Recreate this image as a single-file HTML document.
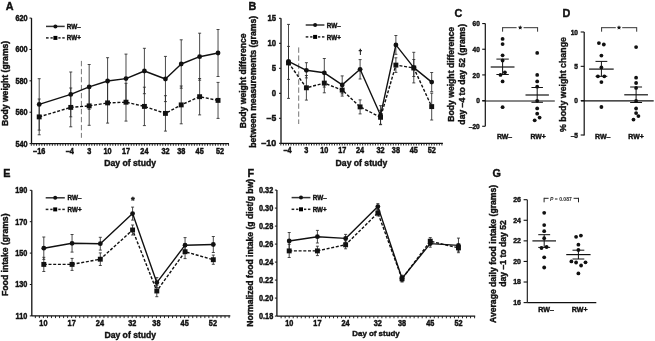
<!DOCTYPE html>
<html><head><meta charset="utf-8"><style>
html,body{margin:0;padding:0;background:#fff;}
svg{display:block;will-change:transform;}
text{font-family:"Liberation Sans", sans-serif;}
</style></head><body>
<svg width="655" height="341" viewBox="0 0 655 341">
<rect width="655" height="341" fill="#fff"/>
<text x="5.70" y="10.30" font-size="10.8" text-anchor="start" font-weight="bold" stroke="#111" stroke-width="0.4" fill="#111">A</text>
<line x1="31.50" y1="18.08" x2="31.50" y2="143.60" stroke="#111" stroke-width="1.3" />
<line x1="29.50" y1="18.08" x2="31.50" y2="18.08" stroke="#111" stroke-width="1.0" />
<text x="0" y="0" font-size="7.3" text-anchor="end" font-weight="bold" stroke="#111" stroke-width="0.4" fill="#111" transform="translate(27.60 20.98) scale(1 1.12)">620</text>
<line x1="29.50" y1="49.46" x2="31.50" y2="49.46" stroke="#111" stroke-width="1.0" />
<text x="0" y="0" font-size="7.3" text-anchor="end" font-weight="bold" stroke="#111" stroke-width="0.4" fill="#111" transform="translate(27.60 52.36) scale(1 1.12)">600</text>
<line x1="29.50" y1="80.84" x2="31.50" y2="80.84" stroke="#111" stroke-width="1.0" />
<text x="0" y="0" font-size="7.3" text-anchor="end" font-weight="bold" stroke="#111" stroke-width="0.4" fill="#111" transform="translate(27.60 83.74) scale(1 1.12)">580</text>
<line x1="29.50" y1="112.22" x2="31.50" y2="112.22" stroke="#111" stroke-width="1.0" />
<text x="0" y="0" font-size="7.3" text-anchor="end" font-weight="bold" stroke="#111" stroke-width="0.4" fill="#111" transform="translate(27.60 115.12) scale(1 1.12)">560</text>
<line x1="29.50" y1="143.60" x2="31.50" y2="143.60" stroke="#111" stroke-width="1.0" />
<text x="0" y="0" font-size="7.3" text-anchor="end" font-weight="bold" stroke="#111" stroke-width="0.4" fill="#111" transform="translate(27.60 146.50) scale(1 1.12)">540</text>
<line x1="31.50" y1="143.60" x2="229.00" y2="143.60" stroke="#111" stroke-width="1.3" />
<line x1="31.31" y1="143.60" x2="31.31" y2="145.80" stroke="#111" stroke-width="0.9" />
<line x1="33.94" y1="143.60" x2="33.94" y2="145.80" stroke="#111" stroke-width="0.9" />
<line x1="36.57" y1="143.60" x2="36.57" y2="145.80" stroke="#111" stroke-width="0.9" />
<line x1="39.20" y1="143.60" x2="39.20" y2="145.80" stroke="#111" stroke-width="0.9" />
<line x1="41.83" y1="143.60" x2="41.83" y2="145.80" stroke="#111" stroke-width="0.9" />
<line x1="44.46" y1="143.60" x2="44.46" y2="145.80" stroke="#111" stroke-width="0.9" />
<line x1="47.09" y1="143.60" x2="47.09" y2="145.80" stroke="#111" stroke-width="0.9" />
<line x1="49.72" y1="143.60" x2="49.72" y2="145.80" stroke="#111" stroke-width="0.9" />
<line x1="52.35" y1="143.60" x2="52.35" y2="145.80" stroke="#111" stroke-width="0.9" />
<line x1="54.98" y1="143.60" x2="54.98" y2="145.80" stroke="#111" stroke-width="0.9" />
<line x1="57.61" y1="143.60" x2="57.61" y2="145.80" stroke="#111" stroke-width="0.9" />
<line x1="60.24" y1="143.60" x2="60.24" y2="145.80" stroke="#111" stroke-width="0.9" />
<line x1="62.87" y1="143.60" x2="62.87" y2="145.80" stroke="#111" stroke-width="0.9" />
<line x1="65.50" y1="143.60" x2="65.50" y2="145.80" stroke="#111" stroke-width="0.9" />
<line x1="68.13" y1="143.60" x2="68.13" y2="145.80" stroke="#111" stroke-width="0.9" />
<line x1="70.76" y1="143.60" x2="70.76" y2="145.80" stroke="#111" stroke-width="0.9" />
<line x1="73.39" y1="143.60" x2="73.39" y2="145.80" stroke="#111" stroke-width="0.9" />
<line x1="76.02" y1="143.60" x2="76.02" y2="145.80" stroke="#111" stroke-width="0.9" />
<line x1="78.65" y1="143.60" x2="78.65" y2="145.80" stroke="#111" stroke-width="0.9" />
<line x1="81.28" y1="143.60" x2="81.28" y2="145.80" stroke="#111" stroke-width="0.9" />
<line x1="83.91" y1="143.60" x2="83.91" y2="145.80" stroke="#111" stroke-width="0.9" />
<line x1="86.54" y1="143.60" x2="86.54" y2="145.80" stroke="#111" stroke-width="0.9" />
<line x1="89.17" y1="143.60" x2="89.17" y2="145.80" stroke="#111" stroke-width="0.9" />
<line x1="91.80" y1="143.60" x2="91.80" y2="145.80" stroke="#111" stroke-width="0.9" />
<line x1="94.43" y1="143.60" x2="94.43" y2="145.80" stroke="#111" stroke-width="0.9" />
<line x1="97.06" y1="143.60" x2="97.06" y2="145.80" stroke="#111" stroke-width="0.9" />
<line x1="99.69" y1="143.60" x2="99.69" y2="145.80" stroke="#111" stroke-width="0.9" />
<line x1="102.32" y1="143.60" x2="102.32" y2="145.80" stroke="#111" stroke-width="0.9" />
<line x1="104.95" y1="143.60" x2="104.95" y2="145.80" stroke="#111" stroke-width="0.9" />
<line x1="107.58" y1="143.60" x2="107.58" y2="145.80" stroke="#111" stroke-width="0.9" />
<line x1="110.21" y1="143.60" x2="110.21" y2="145.80" stroke="#111" stroke-width="0.9" />
<line x1="112.84" y1="143.60" x2="112.84" y2="145.80" stroke="#111" stroke-width="0.9" />
<line x1="115.47" y1="143.60" x2="115.47" y2="145.80" stroke="#111" stroke-width="0.9" />
<line x1="118.10" y1="143.60" x2="118.10" y2="145.80" stroke="#111" stroke-width="0.9" />
<line x1="120.73" y1="143.60" x2="120.73" y2="145.80" stroke="#111" stroke-width="0.9" />
<line x1="123.36" y1="143.60" x2="123.36" y2="145.80" stroke="#111" stroke-width="0.9" />
<line x1="125.99" y1="143.60" x2="125.99" y2="145.80" stroke="#111" stroke-width="0.9" />
<line x1="128.62" y1="143.60" x2="128.62" y2="145.80" stroke="#111" stroke-width="0.9" />
<line x1="131.25" y1="143.60" x2="131.25" y2="145.80" stroke="#111" stroke-width="0.9" />
<line x1="133.88" y1="143.60" x2="133.88" y2="145.80" stroke="#111" stroke-width="0.9" />
<line x1="136.51" y1="143.60" x2="136.51" y2="145.80" stroke="#111" stroke-width="0.9" />
<line x1="139.14" y1="143.60" x2="139.14" y2="145.80" stroke="#111" stroke-width="0.9" />
<line x1="141.77" y1="143.60" x2="141.77" y2="145.80" stroke="#111" stroke-width="0.9" />
<line x1="144.40" y1="143.60" x2="144.40" y2="145.80" stroke="#111" stroke-width="0.9" />
<line x1="147.03" y1="143.60" x2="147.03" y2="145.80" stroke="#111" stroke-width="0.9" />
<line x1="149.66" y1="143.60" x2="149.66" y2="145.80" stroke="#111" stroke-width="0.9" />
<line x1="152.29" y1="143.60" x2="152.29" y2="145.80" stroke="#111" stroke-width="0.9" />
<line x1="154.92" y1="143.60" x2="154.92" y2="145.80" stroke="#111" stroke-width="0.9" />
<line x1="157.55" y1="143.60" x2="157.55" y2="145.80" stroke="#111" stroke-width="0.9" />
<line x1="160.18" y1="143.60" x2="160.18" y2="145.80" stroke="#111" stroke-width="0.9" />
<line x1="162.81" y1="143.60" x2="162.81" y2="145.80" stroke="#111" stroke-width="0.9" />
<line x1="165.44" y1="143.60" x2="165.44" y2="145.80" stroke="#111" stroke-width="0.9" />
<line x1="168.07" y1="143.60" x2="168.07" y2="145.80" stroke="#111" stroke-width="0.9" />
<line x1="170.70" y1="143.60" x2="170.70" y2="145.80" stroke="#111" stroke-width="0.9" />
<line x1="173.33" y1="143.60" x2="173.33" y2="145.80" stroke="#111" stroke-width="0.9" />
<line x1="175.96" y1="143.60" x2="175.96" y2="145.80" stroke="#111" stroke-width="0.9" />
<line x1="178.59" y1="143.60" x2="178.59" y2="145.80" stroke="#111" stroke-width="0.9" />
<line x1="181.22" y1="143.60" x2="181.22" y2="145.80" stroke="#111" stroke-width="0.9" />
<line x1="183.85" y1="143.60" x2="183.85" y2="145.80" stroke="#111" stroke-width="0.9" />
<line x1="186.48" y1="143.60" x2="186.48" y2="145.80" stroke="#111" stroke-width="0.9" />
<line x1="189.11" y1="143.60" x2="189.11" y2="145.80" stroke="#111" stroke-width="0.9" />
<line x1="191.74" y1="143.60" x2="191.74" y2="145.80" stroke="#111" stroke-width="0.9" />
<line x1="194.37" y1="143.60" x2="194.37" y2="145.80" stroke="#111" stroke-width="0.9" />
<line x1="197.00" y1="143.60" x2="197.00" y2="145.80" stroke="#111" stroke-width="0.9" />
<line x1="199.63" y1="143.60" x2="199.63" y2="145.80" stroke="#111" stroke-width="0.9" />
<line x1="202.26" y1="143.60" x2="202.26" y2="145.80" stroke="#111" stroke-width="0.9" />
<line x1="204.89" y1="143.60" x2="204.89" y2="145.80" stroke="#111" stroke-width="0.9" />
<line x1="207.52" y1="143.60" x2="207.52" y2="145.80" stroke="#111" stroke-width="0.9" />
<line x1="210.15" y1="143.60" x2="210.15" y2="145.80" stroke="#111" stroke-width="0.9" />
<line x1="212.78" y1="143.60" x2="212.78" y2="145.80" stroke="#111" stroke-width="0.9" />
<line x1="215.41" y1="143.60" x2="215.41" y2="145.80" stroke="#111" stroke-width="0.9" />
<line x1="218.04" y1="143.60" x2="218.04" y2="145.80" stroke="#111" stroke-width="0.9" />
<line x1="220.67" y1="143.60" x2="220.67" y2="145.80" stroke="#111" stroke-width="0.9" />
<line x1="223.30" y1="143.60" x2="223.30" y2="145.80" stroke="#111" stroke-width="0.9" />
<line x1="225.93" y1="143.60" x2="225.93" y2="145.80" stroke="#111" stroke-width="0.9" />
<line x1="228.56" y1="143.60" x2="228.56" y2="145.80" stroke="#111" stroke-width="0.9" />
<text x="0" y="0" font-size="7.3" text-anchor="middle" font-weight="bold" stroke="#111" stroke-width="0.4" fill="#111" transform="translate(39.20 153.70) scale(1 1.12)">&#8211;16</text>
<text x="0" y="0" font-size="7.3" text-anchor="middle" font-weight="bold" stroke="#111" stroke-width="0.4" fill="#111" transform="translate(69.76 153.70) scale(1 1.12)">&#8211;4</text>
<text x="0" y="0" font-size="7.3" text-anchor="middle" font-weight="bold" stroke="#111" stroke-width="0.4" fill="#111" transform="translate(89.17 153.70) scale(1 1.12)">3</text>
<text x="0" y="0" font-size="7.3" text-anchor="middle" font-weight="bold" stroke="#111" stroke-width="0.4" fill="#111" transform="translate(107.58 153.70) scale(1 1.12)">10</text>
<text x="0" y="0" font-size="7.3" text-anchor="middle" font-weight="bold" stroke="#111" stroke-width="0.4" fill="#111" transform="translate(125.99 153.70) scale(1 1.12)">17</text>
<text x="0" y="0" font-size="7.3" text-anchor="middle" font-weight="bold" stroke="#111" stroke-width="0.4" fill="#111" transform="translate(144.40 153.70) scale(1 1.12)">24</text>
<text x="0" y="0" font-size="7.3" text-anchor="middle" font-weight="bold" stroke="#111" stroke-width="0.4" fill="#111" transform="translate(165.44 153.70) scale(1 1.12)">32</text>
<text x="0" y="0" font-size="7.3" text-anchor="middle" font-weight="bold" stroke="#111" stroke-width="0.4" fill="#111" transform="translate(181.22 153.70) scale(1 1.12)">38</text>
<text x="0" y="0" font-size="7.3" text-anchor="middle" font-weight="bold" stroke="#111" stroke-width="0.4" fill="#111" transform="translate(199.63 153.70) scale(1 1.12)">45</text>
<text x="0" y="0" font-size="7.3" text-anchor="middle" font-weight="bold" stroke="#111" stroke-width="0.4" fill="#111" transform="translate(220.04 153.70) scale(1 1.12)">52</text>
<text x="130.10" y="165.90" font-size="8.65" text-anchor="middle" font-weight="bold" stroke="#111" stroke-width="0.4" fill="#111">Day of study</text>
<text x="8.20" y="83.40" font-size="8.65" text-anchor="middle" font-weight="bold" stroke="#111" stroke-width="0.4" fill="#111" transform="rotate(-90 8.20 83.40)">Body weight (grams)</text>
<line x1="46.00" y1="26.40" x2="64.70" y2="26.40" stroke="#333" stroke-width="1.5" />
<circle cx="55.40" cy="26.40" r="2.0" fill="#111"/>
<text x="66.80" y="28.70" font-size="6.4" text-anchor="start" font-weight="bold" stroke="#111" stroke-width="0.4" textLength="14.0" lengthAdjust="spacingAndGlyphs" fill="#111">RW&#8211;</text>
<rect x="46.00" y="37.15" width="2.62" height="1.5" fill="#222"/>
<rect x="50.49" y="37.15" width="2.24" height="1.5" fill="#222"/>
<rect x="58.34" y="37.15" width="2.24" height="1.5" fill="#222"/>
<rect x="62.27" y="37.15" width="2.43" height="1.5" fill="#222"/>
<rect x="53.40" y="35.90" width="4.0" height="4.0" fill="#000"/>
<text x="66.80" y="40.20" font-size="6.4" text-anchor="start" font-weight="bold" stroke="#111" stroke-width="0.4" textLength="14.0" lengthAdjust="spacingAndGlyphs" fill="#111">RW+</text>
<line x1="81.40" y1="60.90" x2="81.40" y2="137.80" stroke="#777" stroke-width="1.0" stroke-dasharray="5.4,2.6" />
<line x1="39.20" y1="78.70" x2="39.20" y2="130.10" stroke="#2a2a2a" stroke-width="0.85" />
<line x1="37.70" y1="78.70" x2="40.70" y2="78.70" stroke="#2a2a2a" stroke-width="0.85" />
<line x1="37.70" y1="130.10" x2="40.70" y2="130.10" stroke="#2a2a2a" stroke-width="0.85" />
<line x1="70.76" y1="72.00" x2="70.76" y2="116.80" stroke="#2a2a2a" stroke-width="0.85" />
<line x1="69.26" y1="72.00" x2="72.26" y2="72.00" stroke="#2a2a2a" stroke-width="0.85" />
<line x1="69.26" y1="116.80" x2="72.26" y2="116.80" stroke="#2a2a2a" stroke-width="0.85" />
<line x1="89.17" y1="64.50" x2="89.17" y2="109.30" stroke="#2a2a2a" stroke-width="0.85" />
<line x1="87.67" y1="64.50" x2="90.67" y2="64.50" stroke="#2a2a2a" stroke-width="0.85" />
<line x1="87.67" y1="109.30" x2="90.67" y2="109.30" stroke="#2a2a2a" stroke-width="0.85" />
<line x1="107.58" y1="57.70" x2="107.58" y2="104.30" stroke="#2a2a2a" stroke-width="0.85" />
<line x1="106.08" y1="57.70" x2="109.08" y2="57.70" stroke="#2a2a2a" stroke-width="0.85" />
<line x1="106.08" y1="104.30" x2="109.08" y2="104.30" stroke="#2a2a2a" stroke-width="0.85" />
<line x1="125.99" y1="54.10" x2="125.99" y2="103.10" stroke="#2a2a2a" stroke-width="0.85" />
<line x1="124.49" y1="54.10" x2="127.49" y2="54.10" stroke="#2a2a2a" stroke-width="0.85" />
<line x1="124.49" y1="103.10" x2="127.49" y2="103.10" stroke="#2a2a2a" stroke-width="0.85" />
<line x1="144.40" y1="48.30" x2="144.40" y2="93.70" stroke="#2a2a2a" stroke-width="0.85" />
<line x1="142.90" y1="48.30" x2="145.90" y2="48.30" stroke="#2a2a2a" stroke-width="0.85" />
<line x1="142.90" y1="93.70" x2="145.90" y2="93.70" stroke="#2a2a2a" stroke-width="0.85" />
<line x1="165.44" y1="56.40" x2="165.44" y2="101.60" stroke="#2a2a2a" stroke-width="0.85" />
<line x1="163.94" y1="56.40" x2="166.94" y2="56.40" stroke="#2a2a2a" stroke-width="0.85" />
<line x1="163.94" y1="101.60" x2="166.94" y2="101.60" stroke="#2a2a2a" stroke-width="0.85" />
<line x1="181.22" y1="39.80" x2="181.22" y2="88.20" stroke="#2a2a2a" stroke-width="0.85" />
<line x1="179.72" y1="39.80" x2="182.72" y2="39.80" stroke="#2a2a2a" stroke-width="0.85" />
<line x1="179.72" y1="88.20" x2="182.72" y2="88.20" stroke="#2a2a2a" stroke-width="0.85" />
<line x1="199.63" y1="33.20" x2="199.63" y2="80.20" stroke="#2a2a2a" stroke-width="0.85" />
<line x1="198.13" y1="33.20" x2="201.13" y2="33.20" stroke="#2a2a2a" stroke-width="0.85" />
<line x1="198.13" y1="80.20" x2="201.13" y2="80.20" stroke="#2a2a2a" stroke-width="0.85" />
<line x1="218.04" y1="29.50" x2="218.04" y2="76.50" stroke="#2a2a2a" stroke-width="0.85" />
<line x1="216.54" y1="29.50" x2="219.54" y2="29.50" stroke="#2a2a2a" stroke-width="0.85" />
<line x1="216.54" y1="76.50" x2="219.54" y2="76.50" stroke="#2a2a2a" stroke-width="0.85" />
<line x1="39.20" y1="99.00" x2="39.20" y2="134.80" stroke="#2a2a2a" stroke-width="0.85" />
<line x1="37.70" y1="99.00" x2="40.70" y2="99.00" stroke="#2a2a2a" stroke-width="0.85" />
<line x1="37.70" y1="134.80" x2="40.70" y2="134.80" stroke="#2a2a2a" stroke-width="0.85" />
<line x1="70.76" y1="88.00" x2="70.76" y2="126.80" stroke="#2a2a2a" stroke-width="0.85" />
<line x1="69.26" y1="88.00" x2="72.26" y2="88.00" stroke="#2a2a2a" stroke-width="0.85" />
<line x1="69.26" y1="126.80" x2="72.26" y2="126.80" stroke="#2a2a2a" stroke-width="0.85" />
<line x1="89.17" y1="86.50" x2="89.17" y2="125.30" stroke="#2a2a2a" stroke-width="0.85" />
<line x1="87.67" y1="86.50" x2="90.67" y2="86.50" stroke="#2a2a2a" stroke-width="0.85" />
<line x1="87.67" y1="125.30" x2="90.67" y2="125.30" stroke="#2a2a2a" stroke-width="0.85" />
<line x1="107.58" y1="82.70" x2="107.58" y2="123.10" stroke="#2a2a2a" stroke-width="0.85" />
<line x1="106.08" y1="82.70" x2="109.08" y2="82.70" stroke="#2a2a2a" stroke-width="0.85" />
<line x1="106.08" y1="123.10" x2="109.08" y2="123.10" stroke="#2a2a2a" stroke-width="0.85" />
<line x1="125.99" y1="83.30" x2="125.99" y2="121.10" stroke="#2a2a2a" stroke-width="0.85" />
<line x1="124.49" y1="83.30" x2="127.49" y2="83.30" stroke="#2a2a2a" stroke-width="0.85" />
<line x1="124.49" y1="121.10" x2="127.49" y2="121.10" stroke="#2a2a2a" stroke-width="0.85" />
<line x1="144.40" y1="87.20" x2="144.40" y2="125.60" stroke="#2a2a2a" stroke-width="0.85" />
<line x1="142.90" y1="87.20" x2="145.90" y2="87.20" stroke="#2a2a2a" stroke-width="0.85" />
<line x1="142.90" y1="125.60" x2="145.90" y2="125.60" stroke="#2a2a2a" stroke-width="0.85" />
<line x1="165.44" y1="95.70" x2="165.44" y2="131.10" stroke="#2a2a2a" stroke-width="0.85" />
<line x1="163.94" y1="95.70" x2="166.94" y2="95.70" stroke="#2a2a2a" stroke-width="0.85" />
<line x1="163.94" y1="131.10" x2="166.94" y2="131.10" stroke="#2a2a2a" stroke-width="0.85" />
<line x1="181.22" y1="86.00" x2="181.22" y2="123.80" stroke="#2a2a2a" stroke-width="0.85" />
<line x1="179.72" y1="86.00" x2="182.72" y2="86.00" stroke="#2a2a2a" stroke-width="0.85" />
<line x1="179.72" y1="123.80" x2="182.72" y2="123.80" stroke="#2a2a2a" stroke-width="0.85" />
<line x1="199.63" y1="78.50" x2="199.63" y2="114.90" stroke="#2a2a2a" stroke-width="0.85" />
<line x1="198.13" y1="78.50" x2="201.13" y2="78.50" stroke="#2a2a2a" stroke-width="0.85" />
<line x1="198.13" y1="114.90" x2="201.13" y2="114.90" stroke="#2a2a2a" stroke-width="0.85" />
<line x1="218.04" y1="82.40" x2="218.04" y2="118.40" stroke="#2a2a2a" stroke-width="0.85" />
<line x1="216.54" y1="82.40" x2="219.54" y2="82.40" stroke="#2a2a2a" stroke-width="0.85" />
<line x1="216.54" y1="118.40" x2="219.54" y2="118.40" stroke="#2a2a2a" stroke-width="0.85" />
<polyline points="39.20,104.40 70.76,94.40 89.17,86.90 107.58,81.00 125.99,78.60 144.40,71.00 165.44,79.00 181.22,64.00 199.63,56.70 218.04,53.00" fill="none" stroke="#111" stroke-width="1.4" stroke-linejoin="round"/>
<polyline points="39.20,116.90 70.76,107.40 89.17,105.90 107.58,102.90 125.99,102.20 144.40,106.40 165.44,113.40 181.22,104.90 199.63,96.70 218.04,100.40" fill="none" stroke="#111" stroke-width="1.4" stroke-dasharray="3,1.7" stroke-linejoin="round"/>
<circle cx="39.20" cy="104.40" r="2.4" fill="#111"/>
<circle cx="70.76" cy="94.40" r="2.4" fill="#111"/>
<circle cx="89.17" cy="86.90" r="2.4" fill="#111"/>
<circle cx="107.58" cy="81.00" r="2.4" fill="#111"/>
<circle cx="125.99" cy="78.60" r="2.4" fill="#111"/>
<circle cx="144.40" cy="71.00" r="2.4" fill="#111"/>
<circle cx="165.44" cy="79.00" r="2.4" fill="#111"/>
<circle cx="181.22" cy="64.00" r="2.4" fill="#111"/>
<circle cx="199.63" cy="56.70" r="2.4" fill="#111"/>
<circle cx="218.04" cy="53.00" r="2.4" fill="#111"/>
<rect x="36.75" y="114.45" width="4.9" height="4.9" fill="#111"/>
<rect x="68.31" y="104.95" width="4.9" height="4.9" fill="#111"/>
<rect x="86.72" y="103.45" width="4.9" height="4.9" fill="#111"/>
<rect x="105.13" y="100.45" width="4.9" height="4.9" fill="#111"/>
<rect x="123.54" y="99.75" width="4.9" height="4.9" fill="#111"/>
<rect x="141.95" y="103.95" width="4.9" height="4.9" fill="#111"/>
<rect x="162.99" y="110.95" width="4.9" height="4.9" fill="#111"/>
<rect x="178.77" y="102.45" width="4.9" height="4.9" fill="#111"/>
<rect x="197.18" y="94.25" width="4.9" height="4.9" fill="#111"/>
<rect x="215.59" y="97.95" width="4.9" height="4.9" fill="#111"/>
<text x="248.50" y="10.30" font-size="10.8" text-anchor="start" font-weight="bold" stroke="#111" stroke-width="0.4" fill="#111">B</text>
<line x1="281.00" y1="18.30" x2="281.00" y2="143.30" stroke="#111" stroke-width="1.3" />
<line x1="279.00" y1="18.30" x2="281.00" y2="18.30" stroke="#111" stroke-width="1.0" />
<text x="0" y="0" font-size="7.8" text-anchor="end" font-weight="bold" stroke="#111" stroke-width="0.4" fill="#111" transform="translate(276.20 21.20) scale(1 1.12)">15</text>
<line x1="279.00" y1="43.30" x2="281.00" y2="43.30" stroke="#111" stroke-width="1.0" />
<text x="0" y="0" font-size="7.8" text-anchor="end" font-weight="bold" stroke="#111" stroke-width="0.4" fill="#111" transform="translate(276.20 46.20) scale(1 1.12)">10</text>
<line x1="279.00" y1="68.30" x2="281.00" y2="68.30" stroke="#111" stroke-width="1.0" />
<text x="0" y="0" font-size="7.8" text-anchor="end" font-weight="bold" stroke="#111" stroke-width="0.4" fill="#111" transform="translate(276.20 71.20) scale(1 1.12)">5</text>
<line x1="279.00" y1="93.30" x2="281.00" y2="93.30" stroke="#111" stroke-width="1.0" />
<text x="0" y="0" font-size="7.8" text-anchor="end" font-weight="bold" stroke="#111" stroke-width="0.4" fill="#111" transform="translate(276.20 96.20) scale(1 1.12)">0</text>
<line x1="279.00" y1="118.30" x2="281.00" y2="118.30" stroke="#111" stroke-width="1.0" />
<text x="0" y="0" font-size="7.8" text-anchor="end" font-weight="bold" stroke="#111" stroke-width="0.4" textLength="9.6" lengthAdjust="spacingAndGlyphs" fill="#111" transform="translate(276.20 121.20) scale(1 1.12)">&#8211;5</text>
<line x1="279.00" y1="143.30" x2="281.00" y2="143.30" stroke="#111" stroke-width="1.0" />
<text x="0" y="0" font-size="7.8" text-anchor="end" font-weight="bold" stroke="#111" stroke-width="0.4" textLength="15.0" lengthAdjust="spacingAndGlyphs" fill="#111" transform="translate(276.20 146.20) scale(1 1.12)">&#8211;10</text>
<line x1="281.00" y1="143.30" x2="442.90" y2="143.30" stroke="#111" stroke-width="1.3" />
<line x1="280.83" y1="143.30" x2="280.83" y2="145.50" stroke="#111" stroke-width="0.9" />
<line x1="283.39" y1="143.30" x2="283.39" y2="145.50" stroke="#111" stroke-width="0.9" />
<line x1="285.94" y1="143.30" x2="285.94" y2="145.50" stroke="#111" stroke-width="0.9" />
<line x1="288.50" y1="143.30" x2="288.50" y2="145.50" stroke="#111" stroke-width="0.9" />
<line x1="291.06" y1="143.30" x2="291.06" y2="145.50" stroke="#111" stroke-width="0.9" />
<line x1="293.61" y1="143.30" x2="293.61" y2="145.50" stroke="#111" stroke-width="0.9" />
<line x1="296.17" y1="143.30" x2="296.17" y2="145.50" stroke="#111" stroke-width="0.9" />
<line x1="298.73" y1="143.30" x2="298.73" y2="145.50" stroke="#111" stroke-width="0.9" />
<line x1="301.29" y1="143.30" x2="301.29" y2="145.50" stroke="#111" stroke-width="0.9" />
<line x1="303.84" y1="143.30" x2="303.84" y2="145.50" stroke="#111" stroke-width="0.9" />
<line x1="306.40" y1="143.30" x2="306.40" y2="145.50" stroke="#111" stroke-width="0.9" />
<line x1="308.96" y1="143.30" x2="308.96" y2="145.50" stroke="#111" stroke-width="0.9" />
<line x1="311.51" y1="143.30" x2="311.51" y2="145.50" stroke="#111" stroke-width="0.9" />
<line x1="314.07" y1="143.30" x2="314.07" y2="145.50" stroke="#111" stroke-width="0.9" />
<line x1="316.63" y1="143.30" x2="316.63" y2="145.50" stroke="#111" stroke-width="0.9" />
<line x1="319.18" y1="143.30" x2="319.18" y2="145.50" stroke="#111" stroke-width="0.9" />
<line x1="321.74" y1="143.30" x2="321.74" y2="145.50" stroke="#111" stroke-width="0.9" />
<line x1="324.30" y1="143.30" x2="324.30" y2="145.50" stroke="#111" stroke-width="0.9" />
<line x1="326.86" y1="143.30" x2="326.86" y2="145.50" stroke="#111" stroke-width="0.9" />
<line x1="329.41" y1="143.30" x2="329.41" y2="145.50" stroke="#111" stroke-width="0.9" />
<line x1="331.97" y1="143.30" x2="331.97" y2="145.50" stroke="#111" stroke-width="0.9" />
<line x1="334.53" y1="143.30" x2="334.53" y2="145.50" stroke="#111" stroke-width="0.9" />
<line x1="337.08" y1="143.30" x2="337.08" y2="145.50" stroke="#111" stroke-width="0.9" />
<line x1="339.64" y1="143.30" x2="339.64" y2="145.50" stroke="#111" stroke-width="0.9" />
<line x1="342.20" y1="143.30" x2="342.20" y2="145.50" stroke="#111" stroke-width="0.9" />
<line x1="344.75" y1="143.30" x2="344.75" y2="145.50" stroke="#111" stroke-width="0.9" />
<line x1="347.31" y1="143.30" x2="347.31" y2="145.50" stroke="#111" stroke-width="0.9" />
<line x1="349.87" y1="143.30" x2="349.87" y2="145.50" stroke="#111" stroke-width="0.9" />
<line x1="352.43" y1="143.30" x2="352.43" y2="145.50" stroke="#111" stroke-width="0.9" />
<line x1="354.98" y1="143.30" x2="354.98" y2="145.50" stroke="#111" stroke-width="0.9" />
<line x1="357.54" y1="143.30" x2="357.54" y2="145.50" stroke="#111" stroke-width="0.9" />
<line x1="360.10" y1="143.30" x2="360.10" y2="145.50" stroke="#111" stroke-width="0.9" />
<line x1="362.65" y1="143.30" x2="362.65" y2="145.50" stroke="#111" stroke-width="0.9" />
<line x1="365.21" y1="143.30" x2="365.21" y2="145.50" stroke="#111" stroke-width="0.9" />
<line x1="367.77" y1="143.30" x2="367.77" y2="145.50" stroke="#111" stroke-width="0.9" />
<line x1="370.32" y1="143.30" x2="370.32" y2="145.50" stroke="#111" stroke-width="0.9" />
<line x1="372.88" y1="143.30" x2="372.88" y2="145.50" stroke="#111" stroke-width="0.9" />
<line x1="375.44" y1="143.30" x2="375.44" y2="145.50" stroke="#111" stroke-width="0.9" />
<line x1="378.00" y1="143.30" x2="378.00" y2="145.50" stroke="#111" stroke-width="0.9" />
<line x1="380.55" y1="143.30" x2="380.55" y2="145.50" stroke="#111" stroke-width="0.9" />
<line x1="383.11" y1="143.30" x2="383.11" y2="145.50" stroke="#111" stroke-width="0.9" />
<line x1="385.67" y1="143.30" x2="385.67" y2="145.50" stroke="#111" stroke-width="0.9" />
<line x1="388.22" y1="143.30" x2="388.22" y2="145.50" stroke="#111" stroke-width="0.9" />
<line x1="390.78" y1="143.30" x2="390.78" y2="145.50" stroke="#111" stroke-width="0.9" />
<line x1="393.34" y1="143.30" x2="393.34" y2="145.50" stroke="#111" stroke-width="0.9" />
<line x1="395.89" y1="143.30" x2="395.89" y2="145.50" stroke="#111" stroke-width="0.9" />
<line x1="398.45" y1="143.30" x2="398.45" y2="145.50" stroke="#111" stroke-width="0.9" />
<line x1="401.01" y1="143.30" x2="401.01" y2="145.50" stroke="#111" stroke-width="0.9" />
<line x1="403.56" y1="143.30" x2="403.56" y2="145.50" stroke="#111" stroke-width="0.9" />
<line x1="406.12" y1="143.30" x2="406.12" y2="145.50" stroke="#111" stroke-width="0.9" />
<line x1="408.68" y1="143.30" x2="408.68" y2="145.50" stroke="#111" stroke-width="0.9" />
<line x1="411.24" y1="143.30" x2="411.24" y2="145.50" stroke="#111" stroke-width="0.9" />
<line x1="413.79" y1="143.30" x2="413.79" y2="145.50" stroke="#111" stroke-width="0.9" />
<line x1="416.35" y1="143.30" x2="416.35" y2="145.50" stroke="#111" stroke-width="0.9" />
<line x1="418.91" y1="143.30" x2="418.91" y2="145.50" stroke="#111" stroke-width="0.9" />
<line x1="421.46" y1="143.30" x2="421.46" y2="145.50" stroke="#111" stroke-width="0.9" />
<line x1="424.02" y1="143.30" x2="424.02" y2="145.50" stroke="#111" stroke-width="0.9" />
<line x1="426.58" y1="143.30" x2="426.58" y2="145.50" stroke="#111" stroke-width="0.9" />
<line x1="429.13" y1="143.30" x2="429.13" y2="145.50" stroke="#111" stroke-width="0.9" />
<line x1="431.69" y1="143.30" x2="431.69" y2="145.50" stroke="#111" stroke-width="0.9" />
<line x1="434.25" y1="143.30" x2="434.25" y2="145.50" stroke="#111" stroke-width="0.9" />
<line x1="436.81" y1="143.30" x2="436.81" y2="145.50" stroke="#111" stroke-width="0.9" />
<line x1="439.36" y1="143.30" x2="439.36" y2="145.50" stroke="#111" stroke-width="0.9" />
<line x1="441.92" y1="143.30" x2="441.92" y2="145.50" stroke="#111" stroke-width="0.9" />
<text x="0" y="0" font-size="7.3" text-anchor="middle" font-weight="bold" stroke="#111" stroke-width="0.4" fill="#111" transform="translate(287.50 153.20) scale(1 1.12)">&#8211;4</text>
<text x="0" y="0" font-size="7.3" text-anchor="middle" font-weight="bold" stroke="#111" stroke-width="0.4" fill="#111" transform="translate(306.40 153.20) scale(1 1.12)">3</text>
<text x="0" y="0" font-size="7.3" text-anchor="middle" font-weight="bold" stroke="#111" stroke-width="0.4" fill="#111" transform="translate(324.30 153.20) scale(1 1.12)">10</text>
<text x="0" y="0" font-size="7.3" text-anchor="middle" font-weight="bold" stroke="#111" stroke-width="0.4" fill="#111" transform="translate(342.20 153.20) scale(1 1.12)">17</text>
<text x="0" y="0" font-size="7.3" text-anchor="middle" font-weight="bold" stroke="#111" stroke-width="0.4" fill="#111" transform="translate(360.10 153.20) scale(1 1.12)">24</text>
<text x="0" y="0" font-size="7.3" text-anchor="middle" font-weight="bold" stroke="#111" stroke-width="0.4" fill="#111" transform="translate(380.55 153.20) scale(1 1.12)">32</text>
<text x="0" y="0" font-size="7.3" text-anchor="middle" font-weight="bold" stroke="#111" stroke-width="0.4" fill="#111" transform="translate(395.89 153.20) scale(1 1.12)">38</text>
<text x="0" y="0" font-size="7.3" text-anchor="middle" font-weight="bold" stroke="#111" stroke-width="0.4" fill="#111" transform="translate(413.79 153.20) scale(1 1.12)">45</text>
<text x="0" y="0" font-size="7.3" text-anchor="middle" font-weight="bold" stroke="#111" stroke-width="0.4" fill="#111" transform="translate(431.69 153.20) scale(1 1.12)">52</text>
<text x="361.50" y="165.60" font-size="8.65" text-anchor="middle" font-weight="bold" stroke="#111" stroke-width="0.4" fill="#111">Day of study</text>
<text x="246.30" y="80.80" font-size="8.65" text-anchor="middle" font-weight="bold" stroke="#111" stroke-width="0.4" fill="#111" transform="rotate(-90 246.30 80.80)">Body weight difference</text>
<text x="255.80" y="81.80" font-size="8.65" text-anchor="middle" font-weight="bold" stroke="#111" stroke-width="0.4" fill="#111" transform="rotate(-90 255.80 81.80)">between measurements (grams)</text>
<line x1="305.70" y1="25.00" x2="324.40" y2="25.00" stroke="#333" stroke-width="1.5" />
<circle cx="315.10" cy="25.00" r="2.0" fill="#111"/>
<text x="326.80" y="27.90" font-size="6.4" text-anchor="start" font-weight="bold" stroke="#111" stroke-width="0.4" textLength="14.0" lengthAdjust="spacingAndGlyphs" fill="#111">RW&#8211;</text>
<rect x="305.70" y="36.15" width="2.62" height="1.5" fill="#222"/>
<rect x="310.19" y="36.15" width="2.24" height="1.5" fill="#222"/>
<rect x="318.04" y="36.15" width="2.24" height="1.5" fill="#222"/>
<rect x="321.97" y="36.15" width="2.43" height="1.5" fill="#222"/>
<rect x="313.10" y="34.90" width="4.0" height="4.0" fill="#000"/>
<text x="326.80" y="39.80" font-size="6.4" text-anchor="start" font-weight="bold" stroke="#111" stroke-width="0.4" textLength="14.0" lengthAdjust="spacingAndGlyphs" fill="#111">RW+</text>
<line x1="298.70" y1="47.40" x2="298.70" y2="124.00" stroke="#777" stroke-width="1.0" stroke-dasharray="5.4,2.6" />
<text x="360.40" y="53.60" font-size="6.6" text-anchor="middle" font-weight="bold" stroke="#111" stroke-width="0.4" fill="#111">&#8224;</text>
<line x1="288.50" y1="24.40" x2="288.50" y2="98.40" stroke="#2a2a2a" stroke-width="0.85" />
<line x1="287.00" y1="24.40" x2="290.00" y2="24.40" stroke="#2a2a2a" stroke-width="0.85" />
<line x1="287.00" y1="98.40" x2="290.00" y2="98.40" stroke="#2a2a2a" stroke-width="0.85" />
<line x1="306.40" y1="62.70" x2="306.40" y2="77.90" stroke="#2a2a2a" stroke-width="0.85" />
<line x1="304.90" y1="62.70" x2="307.90" y2="62.70" stroke="#2a2a2a" stroke-width="0.85" />
<line x1="304.90" y1="77.90" x2="307.90" y2="77.90" stroke="#2a2a2a" stroke-width="0.85" />
<line x1="324.30" y1="58.50" x2="324.30" y2="87.10" stroke="#2a2a2a" stroke-width="0.85" />
<line x1="322.80" y1="58.50" x2="325.80" y2="58.50" stroke="#2a2a2a" stroke-width="0.85" />
<line x1="322.80" y1="87.10" x2="325.80" y2="87.10" stroke="#2a2a2a" stroke-width="0.85" />
<line x1="342.20" y1="75.90" x2="342.20" y2="93.90" stroke="#2a2a2a" stroke-width="0.85" />
<line x1="340.70" y1="75.90" x2="343.70" y2="75.90" stroke="#2a2a2a" stroke-width="0.85" />
<line x1="340.70" y1="93.90" x2="343.70" y2="93.90" stroke="#2a2a2a" stroke-width="0.85" />
<line x1="360.10" y1="59.60" x2="360.10" y2="79.00" stroke="#2a2a2a" stroke-width="0.85" />
<line x1="358.60" y1="59.60" x2="361.60" y2="59.60" stroke="#2a2a2a" stroke-width="0.85" />
<line x1="358.60" y1="79.00" x2="361.60" y2="79.00" stroke="#2a2a2a" stroke-width="0.85" />
<line x1="380.55" y1="105.70" x2="380.55" y2="124.70" stroke="#2a2a2a" stroke-width="0.85" />
<line x1="379.05" y1="105.70" x2="382.05" y2="105.70" stroke="#2a2a2a" stroke-width="0.85" />
<line x1="379.05" y1="124.70" x2="382.05" y2="124.70" stroke="#2a2a2a" stroke-width="0.85" />
<line x1="395.89" y1="35.50" x2="395.89" y2="54.30" stroke="#2a2a2a" stroke-width="0.85" />
<line x1="394.39" y1="35.50" x2="397.39" y2="35.50" stroke="#2a2a2a" stroke-width="0.85" />
<line x1="394.39" y1="54.30" x2="397.39" y2="54.30" stroke="#2a2a2a" stroke-width="0.85" />
<line x1="413.79" y1="52.30" x2="413.79" y2="82.90" stroke="#2a2a2a" stroke-width="0.85" />
<line x1="412.29" y1="52.30" x2="415.29" y2="52.30" stroke="#2a2a2a" stroke-width="0.85" />
<line x1="412.29" y1="82.90" x2="415.29" y2="82.90" stroke="#2a2a2a" stroke-width="0.85" />
<line x1="431.69" y1="72.50" x2="431.69" y2="91.70" stroke="#2a2a2a" stroke-width="0.85" />
<line x1="430.19" y1="72.50" x2="433.19" y2="72.50" stroke="#2a2a2a" stroke-width="0.85" />
<line x1="430.19" y1="91.70" x2="433.19" y2="91.70" stroke="#2a2a2a" stroke-width="0.85" />
<line x1="288.50" y1="46.40" x2="288.50" y2="79.40" stroke="#2a2a2a" stroke-width="0.85" />
<line x1="287.00" y1="46.40" x2="290.00" y2="46.40" stroke="#2a2a2a" stroke-width="0.85" />
<line x1="287.00" y1="79.40" x2="290.00" y2="79.40" stroke="#2a2a2a" stroke-width="0.85" />
<line x1="306.40" y1="75.50" x2="306.40" y2="100.10" stroke="#2a2a2a" stroke-width="0.85" />
<line x1="304.90" y1="75.50" x2="307.90" y2="75.50" stroke="#2a2a2a" stroke-width="0.85" />
<line x1="304.90" y1="100.10" x2="307.90" y2="100.10" stroke="#2a2a2a" stroke-width="0.85" />
<line x1="324.30" y1="73.40" x2="324.30" y2="92.80" stroke="#2a2a2a" stroke-width="0.85" />
<line x1="322.80" y1="73.40" x2="325.80" y2="73.40" stroke="#2a2a2a" stroke-width="0.85" />
<line x1="322.80" y1="92.80" x2="325.80" y2="92.80" stroke="#2a2a2a" stroke-width="0.85" />
<line x1="342.20" y1="84.10" x2="342.20" y2="96.10" stroke="#2a2a2a" stroke-width="0.85" />
<line x1="340.70" y1="84.10" x2="343.70" y2="84.10" stroke="#2a2a2a" stroke-width="0.85" />
<line x1="340.70" y1="96.10" x2="343.70" y2="96.10" stroke="#2a2a2a" stroke-width="0.85" />
<line x1="360.10" y1="99.90" x2="360.10" y2="113.90" stroke="#2a2a2a" stroke-width="0.85" />
<line x1="358.60" y1="99.90" x2="361.60" y2="99.90" stroke="#2a2a2a" stroke-width="0.85" />
<line x1="358.60" y1="113.90" x2="361.60" y2="113.90" stroke="#2a2a2a" stroke-width="0.85" />
<line x1="380.55" y1="110.30" x2="380.55" y2="124.30" stroke="#2a2a2a" stroke-width="0.85" />
<line x1="379.05" y1="110.30" x2="382.05" y2="110.30" stroke="#2a2a2a" stroke-width="0.85" />
<line x1="379.05" y1="124.30" x2="382.05" y2="124.30" stroke="#2a2a2a" stroke-width="0.85" />
<line x1="395.89" y1="57.80" x2="395.89" y2="72.40" stroke="#2a2a2a" stroke-width="0.85" />
<line x1="394.39" y1="57.80" x2="397.39" y2="57.80" stroke="#2a2a2a" stroke-width="0.85" />
<line x1="394.39" y1="72.40" x2="397.39" y2="72.40" stroke="#2a2a2a" stroke-width="0.85" />
<line x1="413.79" y1="59.50" x2="413.79" y2="76.50" stroke="#2a2a2a" stroke-width="0.85" />
<line x1="412.29" y1="59.50" x2="415.29" y2="59.50" stroke="#2a2a2a" stroke-width="0.85" />
<line x1="412.29" y1="76.50" x2="415.29" y2="76.50" stroke="#2a2a2a" stroke-width="0.85" />
<line x1="431.69" y1="93.20" x2="431.69" y2="120.00" stroke="#2a2a2a" stroke-width="0.85" />
<line x1="430.19" y1="93.20" x2="433.19" y2="93.20" stroke="#2a2a2a" stroke-width="0.85" />
<line x1="430.19" y1="120.00" x2="433.19" y2="120.00" stroke="#2a2a2a" stroke-width="0.85" />
<polyline points="288.50,61.40 306.40,70.30 324.30,72.80 342.20,84.90 360.10,69.30 380.55,115.20 395.89,44.90 413.79,67.60 431.69,82.10" fill="none" stroke="#111" stroke-width="1.4" stroke-linejoin="round"/>
<polyline points="288.50,62.90 306.40,87.80 324.30,83.10 342.20,90.10 360.10,106.90 380.55,117.30 395.89,65.10 413.79,68.00 431.69,106.60" fill="none" stroke="#111" stroke-width="1.4" stroke-dasharray="3,1.7" stroke-linejoin="round"/>
<circle cx="288.50" cy="61.40" r="2.4" fill="#111"/>
<circle cx="306.40" cy="70.30" r="2.4" fill="#111"/>
<circle cx="324.30" cy="72.80" r="2.4" fill="#111"/>
<circle cx="342.20" cy="84.90" r="2.4" fill="#111"/>
<circle cx="360.10" cy="69.30" r="2.4" fill="#111"/>
<circle cx="380.55" cy="115.20" r="2.4" fill="#111"/>
<circle cx="395.89" cy="44.90" r="2.4" fill="#111"/>
<circle cx="413.79" cy="67.60" r="2.4" fill="#111"/>
<circle cx="431.69" cy="82.10" r="2.4" fill="#111"/>
<rect x="286.05" y="60.45" width="4.9" height="4.9" fill="#111"/>
<rect x="303.95" y="85.35" width="4.9" height="4.9" fill="#111"/>
<rect x="321.85" y="80.65" width="4.9" height="4.9" fill="#111"/>
<rect x="339.75" y="87.65" width="4.9" height="4.9" fill="#111"/>
<rect x="357.65" y="104.45" width="4.9" height="4.9" fill="#111"/>
<rect x="378.10" y="114.85" width="4.9" height="4.9" fill="#111"/>
<rect x="393.44" y="62.65" width="4.9" height="4.9" fill="#111"/>
<rect x="411.34" y="65.55" width="4.9" height="4.9" fill="#111"/>
<rect x="429.24" y="104.15" width="4.9" height="4.9" fill="#111"/>
<text x="454.60" y="16.80" font-size="10.8" text-anchor="start" font-weight="bold" stroke="#111" stroke-width="0.4" fill="#111">C</text>
<line x1="485.30" y1="23.56" x2="485.30" y2="126.28" stroke="#111" stroke-width="1.2" />
<line x1="482.20" y1="23.56" x2="485.30" y2="23.56" stroke="#111" stroke-width="1.1" />
<text x="0" y="0" font-size="6.6" text-anchor="end" font-weight="bold" stroke="#111" stroke-width="0.4" fill="#111" transform="translate(479.80 26.16) scale(1 1.1)">60</text>
<line x1="482.20" y1="49.24" x2="485.30" y2="49.24" stroke="#111" stroke-width="1.1" />
<text x="0" y="0" font-size="6.6" text-anchor="end" font-weight="bold" stroke="#111" stroke-width="0.4" fill="#111" transform="translate(479.80 51.84) scale(1 1.1)">40</text>
<line x1="482.20" y1="74.92" x2="485.30" y2="74.92" stroke="#111" stroke-width="1.1" />
<text x="0" y="0" font-size="6.6" text-anchor="end" font-weight="bold" stroke="#111" stroke-width="0.4" fill="#111" transform="translate(479.80 77.52) scale(1 1.1)">20</text>
<line x1="482.20" y1="100.60" x2="485.30" y2="100.60" stroke="#111" stroke-width="1.1" />
<text x="0" y="0" font-size="6.6" text-anchor="end" font-weight="bold" stroke="#111" stroke-width="0.4" fill="#111" transform="translate(479.80 103.20) scale(1 1.1)">0</text>
<line x1="482.20" y1="126.28" x2="485.30" y2="126.28" stroke="#111" stroke-width="1.1" />
<text x="0" y="0" font-size="6.6" text-anchor="end" font-weight="bold" stroke="#111" stroke-width="0.4" fill="#111" transform="translate(479.80 128.88) scale(1 1.1)">&#8211;20</text>
<line x1="482.30" y1="101.00" x2="554.80" y2="101.00" stroke="#111" stroke-width="1.2" />
<text x="453.80" y="74.30" font-size="8.65" text-anchor="middle" font-weight="bold" stroke="#111" stroke-width="0.4" fill="#111" transform="rotate(-90 453.80 74.30)">Body weight difference</text>
<text x="464.90" y="74.30" font-size="8.65" text-anchor="middle" font-weight="bold" stroke="#111" stroke-width="0.4" fill="#111" transform="rotate(-90 464.90 74.30)">day &#8211;4 to day 52 (grams)</text>
<line x1="502.60" y1="27.70" x2="516.60" y2="27.70" stroke="#333" stroke-width="1.0" />
<line x1="523.60" y1="27.70" x2="537.60" y2="27.70" stroke="#333" stroke-width="1.0" />
<line x1="502.60" y1="27.20" x2="502.60" y2="31.70" stroke="#333" stroke-width="1.0" />
<line x1="537.60" y1="27.20" x2="537.60" y2="31.70" stroke="#333" stroke-width="1.0" />
<polygon points="520.20,25.20 520.88,26.67 522.48,26.86 521.29,27.96 521.61,29.54 520.20,28.75 518.79,29.54 519.11,27.96 517.92,26.86 519.52,26.67" fill="#111"/>
<text x="504.60" y="138.80" font-size="6.8" text-anchor="middle" font-weight="bold" stroke="#111" stroke-width="0.4" textLength="15.3" lengthAdjust="spacingAndGlyphs" fill="#111">RW&#8211;</text>
<text x="538.20" y="138.80" font-size="6.8" text-anchor="middle" font-weight="bold" stroke="#111" stroke-width="0.4" textLength="15.3" lengthAdjust="spacingAndGlyphs" fill="#111">RW+</text>
<circle cx="502.60" cy="38.90" r="1.9" fill="#111"/>
<circle cx="502.60" cy="44.10" r="1.9" fill="#111"/>
<circle cx="502.60" cy="55.30" r="1.9" fill="#111"/>
<circle cx="502.60" cy="60.50" r="1.9" fill="#111"/>
<circle cx="504.90" cy="72.30" r="1.9" fill="#111"/>
<circle cx="500.50" cy="74.90" r="1.9" fill="#111"/>
<circle cx="502.60" cy="81.40" r="1.9" fill="#111"/>
<circle cx="502.60" cy="107.20" r="1.9" fill="#111"/>
<line x1="490.70" y1="67.00" x2="514.50" y2="67.00" stroke="#111" stroke-width="1.2" />
<line x1="496.40" y1="59.10" x2="508.80" y2="59.10" stroke="#111" stroke-width="1.0" />
<line x1="496.40" y1="74.50" x2="508.80" y2="74.50" stroke="#111" stroke-width="1.0" />
<line x1="502.60" y1="59.10" x2="502.60" y2="74.50" stroke="#111" stroke-width="1.0" />
<circle cx="537.20" cy="52.90" r="1.9" fill="#111"/>
<circle cx="537.20" cy="74.90" r="1.9" fill="#111"/>
<circle cx="537.20" cy="81.40" r="1.9" fill="#111"/>
<circle cx="537.20" cy="86.70" r="1.9" fill="#111"/>
<circle cx="537.20" cy="100.80" r="1.9" fill="#111"/>
<circle cx="537.20" cy="108.40" r="1.9" fill="#111"/>
<circle cx="537.20" cy="113.70" r="1.9" fill="#111"/>
<circle cx="539.60" cy="117.60" r="1.9" fill="#111"/>
<circle cx="534.70" cy="120.30" r="1.9" fill="#111"/>
<line x1="525.50" y1="95.00" x2="548.90" y2="95.00" stroke="#111" stroke-width="1.2" />
<line x1="531.45" y1="87.50" x2="542.95" y2="87.50" stroke="#111" stroke-width="1.0" />
<line x1="531.45" y1="102.30" x2="542.95" y2="102.30" stroke="#111" stroke-width="1.0" />
<line x1="537.20" y1="87.50" x2="537.20" y2="102.30" stroke="#111" stroke-width="1.0" />
<text x="562.60" y="16.70" font-size="10.8" text-anchor="start" font-weight="bold" stroke="#111" stroke-width="0.4" fill="#111">D</text>
<line x1="584.20" y1="32.00" x2="584.20" y2="135.50" stroke="#111" stroke-width="1.2" />
<line x1="580.70" y1="32.00" x2="584.20" y2="32.00" stroke="#111" stroke-width="1.1" />
<text x="0" y="0" font-size="6.6" text-anchor="end" font-weight="bold" stroke="#111" stroke-width="0.4" fill="#111" transform="translate(578.00 34.60) scale(1 1.1)">10</text>
<line x1="580.70" y1="66.34" x2="584.20" y2="66.34" stroke="#111" stroke-width="1.1" />
<text x="0" y="0" font-size="6.6" text-anchor="end" font-weight="bold" stroke="#111" stroke-width="0.4" fill="#111" transform="translate(578.00 68.94) scale(1 1.1)">5</text>
<line x1="580.70" y1="100.67" x2="584.20" y2="100.67" stroke="#111" stroke-width="1.1" />
<text x="0" y="0" font-size="6.6" text-anchor="end" font-weight="bold" stroke="#111" stroke-width="0.4" fill="#111" transform="translate(578.00 103.27) scale(1 1.1)">0</text>
<line x1="580.70" y1="135.00" x2="584.20" y2="135.00" stroke="#111" stroke-width="1.1" />
<text x="0" y="0" font-size="6.6" text-anchor="end" font-weight="bold" stroke="#111" stroke-width="0.4" fill="#111" transform="translate(578.00 137.60) scale(1 1.1)">&#8211;5</text>
<line x1="581.00" y1="100.97" x2="653.70" y2="100.97" stroke="#111" stroke-width="1.2" />
<text x="566.10" y="84.50" font-size="8.8" text-anchor="middle" font-weight="bold" stroke="#111" stroke-width="0.4" fill="#111" transform="rotate(-90 566.10 84.50)">% body weight change</text>
<line x1="601.60" y1="27.70" x2="615.80" y2="27.70" stroke="#333" stroke-width="1.0" />
<line x1="622.20" y1="27.70" x2="636.70" y2="27.70" stroke="#333" stroke-width="1.0" />
<line x1="601.60" y1="27.20" x2="601.60" y2="31.70" stroke="#333" stroke-width="1.0" />
<line x1="636.70" y1="27.20" x2="636.70" y2="31.70" stroke="#333" stroke-width="1.0" />
<polygon points="619.00,25.20 619.68,26.67 621.28,26.86 620.09,27.96 620.41,29.54 619.00,28.75 617.59,29.54 617.91,27.96 616.72,26.86 618.32,26.67" fill="#111"/>
<text x="602.70" y="138.70" font-size="6.8" text-anchor="middle" font-weight="bold" stroke="#111" stroke-width="0.4" textLength="15.5" lengthAdjust="spacingAndGlyphs" fill="#111">RW&#8211;</text>
<text x="636.00" y="138.70" font-size="6.8" text-anchor="middle" font-weight="bold" stroke="#111" stroke-width="0.4" textLength="15.5" lengthAdjust="spacingAndGlyphs" fill="#111">RW+</text>
<circle cx="598.90" cy="43.10" r="1.9" fill="#111"/>
<circle cx="603.80" cy="44.50" r="1.9" fill="#111"/>
<circle cx="601.40" cy="55.60" r="1.9" fill="#111"/>
<circle cx="601.40" cy="67.40" r="1.9" fill="#111"/>
<circle cx="597.90" cy="76.30" r="1.9" fill="#111"/>
<circle cx="604.30" cy="76.30" r="1.9" fill="#111"/>
<circle cx="601.40" cy="82.10" r="1.9" fill="#111"/>
<circle cx="601.40" cy="107.00" r="1.9" fill="#111"/>
<line x1="589.10" y1="69.10" x2="613.70" y2="69.10" stroke="#111" stroke-width="1.2" />
<line x1="595.50" y1="61.40" x2="607.30" y2="61.40" stroke="#111" stroke-width="1.0" />
<line x1="595.50" y1="76.30" x2="607.30" y2="76.30" stroke="#111" stroke-width="1.0" />
<line x1="601.40" y1="61.40" x2="601.40" y2="76.30" stroke="#111" stroke-width="1.0" />
<circle cx="636.10" cy="47.10" r="1.9" fill="#111"/>
<circle cx="636.10" cy="77.70" r="1.9" fill="#111"/>
<circle cx="636.10" cy="83.00" r="1.9" fill="#111"/>
<circle cx="636.10" cy="87.90" r="1.9" fill="#111"/>
<circle cx="636.10" cy="101.00" r="1.9" fill="#111"/>
<circle cx="636.10" cy="108.50" r="1.9" fill="#111"/>
<circle cx="636.10" cy="113.10" r="1.9" fill="#111"/>
<circle cx="638.40" cy="116.10" r="1.9" fill="#111"/>
<circle cx="633.50" cy="119.60" r="1.9" fill="#111"/>
<line x1="624.25" y1="94.80" x2="647.95" y2="94.80" stroke="#111" stroke-width="1.2" />
<line x1="630.15" y1="87.00" x2="642.05" y2="87.00" stroke="#111" stroke-width="1.0" />
<line x1="630.15" y1="102.50" x2="642.05" y2="102.50" stroke="#111" stroke-width="1.0" />
<line x1="636.10" y1="87.00" x2="636.10" y2="102.50" stroke="#111" stroke-width="1.0" />
<text x="3.20" y="177.00" font-size="10.8" text-anchor="start" font-weight="bold" stroke="#111" stroke-width="0.4" fill="#111">E</text>
<line x1="31.80" y1="190.30" x2="31.80" y2="315.90" stroke="#111" stroke-width="1.3" />
<line x1="29.80" y1="190.30" x2="31.80" y2="190.30" stroke="#111" stroke-width="1.0" />
<text x="0" y="0" font-size="7.3" text-anchor="end" font-weight="bold" stroke="#111" stroke-width="0.4" fill="#111" transform="translate(27.40 193.20) scale(1 1.12)">190</text>
<line x1="29.80" y1="221.70" x2="31.80" y2="221.70" stroke="#111" stroke-width="1.0" />
<text x="0" y="0" font-size="7.3" text-anchor="end" font-weight="bold" stroke="#111" stroke-width="0.4" fill="#111" transform="translate(27.40 224.60) scale(1 1.12)">170</text>
<line x1="29.80" y1="253.10" x2="31.80" y2="253.10" stroke="#111" stroke-width="1.0" />
<text x="0" y="0" font-size="7.3" text-anchor="end" font-weight="bold" stroke="#111" stroke-width="0.4" fill="#111" transform="translate(27.40 256.00) scale(1 1.12)">150</text>
<line x1="29.80" y1="284.50" x2="31.80" y2="284.50" stroke="#111" stroke-width="1.0" />
<text x="0" y="0" font-size="7.3" text-anchor="end" font-weight="bold" stroke="#111" stroke-width="0.4" fill="#111" transform="translate(27.40 287.40) scale(1 1.12)">130</text>
<line x1="29.80" y1="315.90" x2="31.80" y2="315.90" stroke="#111" stroke-width="1.0" />
<text x="0" y="0" font-size="7.3" text-anchor="end" font-weight="bold" stroke="#111" stroke-width="0.4" fill="#111" transform="translate(27.40 318.80) scale(1 1.12)">110</text>
<line x1="31.80" y1="315.90" x2="230.30" y2="315.90" stroke="#111" stroke-width="1.3" />
<line x1="35.33" y1="315.90" x2="35.33" y2="318.10" stroke="#111" stroke-width="0.9" />
<line x1="39.36" y1="315.90" x2="39.36" y2="318.10" stroke="#111" stroke-width="0.9" />
<line x1="43.40" y1="315.90" x2="43.40" y2="318.10" stroke="#111" stroke-width="0.9" />
<line x1="47.44" y1="315.90" x2="47.44" y2="318.10" stroke="#111" stroke-width="0.9" />
<line x1="51.47" y1="315.90" x2="51.47" y2="318.10" stroke="#111" stroke-width="0.9" />
<line x1="55.51" y1="315.90" x2="55.51" y2="318.10" stroke="#111" stroke-width="0.9" />
<line x1="59.54" y1="315.90" x2="59.54" y2="318.10" stroke="#111" stroke-width="0.9" />
<line x1="63.58" y1="315.90" x2="63.58" y2="318.10" stroke="#111" stroke-width="0.9" />
<line x1="67.62" y1="315.90" x2="67.62" y2="318.10" stroke="#111" stroke-width="0.9" />
<line x1="71.65" y1="315.90" x2="71.65" y2="318.10" stroke="#111" stroke-width="0.9" />
<line x1="75.69" y1="315.90" x2="75.69" y2="318.10" stroke="#111" stroke-width="0.9" />
<line x1="79.72" y1="315.90" x2="79.72" y2="318.10" stroke="#111" stroke-width="0.9" />
<line x1="83.76" y1="315.90" x2="83.76" y2="318.10" stroke="#111" stroke-width="0.9" />
<line x1="87.80" y1="315.90" x2="87.80" y2="318.10" stroke="#111" stroke-width="0.9" />
<line x1="91.83" y1="315.90" x2="91.83" y2="318.10" stroke="#111" stroke-width="0.9" />
<line x1="95.87" y1="315.90" x2="95.87" y2="318.10" stroke="#111" stroke-width="0.9" />
<line x1="99.90" y1="315.90" x2="99.90" y2="318.10" stroke="#111" stroke-width="0.9" />
<line x1="103.94" y1="315.90" x2="103.94" y2="318.10" stroke="#111" stroke-width="0.9" />
<line x1="107.98" y1="315.90" x2="107.98" y2="318.10" stroke="#111" stroke-width="0.9" />
<line x1="112.01" y1="315.90" x2="112.01" y2="318.10" stroke="#111" stroke-width="0.9" />
<line x1="116.05" y1="315.90" x2="116.05" y2="318.10" stroke="#111" stroke-width="0.9" />
<line x1="120.08" y1="315.90" x2="120.08" y2="318.10" stroke="#111" stroke-width="0.9" />
<line x1="124.12" y1="315.90" x2="124.12" y2="318.10" stroke="#111" stroke-width="0.9" />
<line x1="128.16" y1="315.90" x2="128.16" y2="318.10" stroke="#111" stroke-width="0.9" />
<line x1="132.19" y1="315.90" x2="132.19" y2="318.10" stroke="#111" stroke-width="0.9" />
<line x1="136.23" y1="315.90" x2="136.23" y2="318.10" stroke="#111" stroke-width="0.9" />
<line x1="140.26" y1="315.90" x2="140.26" y2="318.10" stroke="#111" stroke-width="0.9" />
<line x1="144.30" y1="315.90" x2="144.30" y2="318.10" stroke="#111" stroke-width="0.9" />
<line x1="148.34" y1="315.90" x2="148.34" y2="318.10" stroke="#111" stroke-width="0.9" />
<line x1="152.37" y1="315.90" x2="152.37" y2="318.10" stroke="#111" stroke-width="0.9" />
<line x1="156.41" y1="315.90" x2="156.41" y2="318.10" stroke="#111" stroke-width="0.9" />
<line x1="160.44" y1="315.90" x2="160.44" y2="318.10" stroke="#111" stroke-width="0.9" />
<line x1="164.48" y1="315.90" x2="164.48" y2="318.10" stroke="#111" stroke-width="0.9" />
<line x1="168.52" y1="315.90" x2="168.52" y2="318.10" stroke="#111" stroke-width="0.9" />
<line x1="172.55" y1="315.90" x2="172.55" y2="318.10" stroke="#111" stroke-width="0.9" />
<line x1="176.59" y1="315.90" x2="176.59" y2="318.10" stroke="#111" stroke-width="0.9" />
<line x1="180.62" y1="315.90" x2="180.62" y2="318.10" stroke="#111" stroke-width="0.9" />
<line x1="184.66" y1="315.90" x2="184.66" y2="318.10" stroke="#111" stroke-width="0.9" />
<line x1="188.70" y1="315.90" x2="188.70" y2="318.10" stroke="#111" stroke-width="0.9" />
<line x1="192.73" y1="315.90" x2="192.73" y2="318.10" stroke="#111" stroke-width="0.9" />
<line x1="196.77" y1="315.90" x2="196.77" y2="318.10" stroke="#111" stroke-width="0.9" />
<line x1="200.80" y1="315.90" x2="200.80" y2="318.10" stroke="#111" stroke-width="0.9" />
<line x1="204.84" y1="315.90" x2="204.84" y2="318.10" stroke="#111" stroke-width="0.9" />
<line x1="208.88" y1="315.90" x2="208.88" y2="318.10" stroke="#111" stroke-width="0.9" />
<line x1="212.91" y1="315.90" x2="212.91" y2="318.10" stroke="#111" stroke-width="0.9" />
<line x1="216.95" y1="315.90" x2="216.95" y2="318.10" stroke="#111" stroke-width="0.9" />
<line x1="220.98" y1="315.90" x2="220.98" y2="318.10" stroke="#111" stroke-width="0.9" />
<line x1="225.02" y1="315.90" x2="225.02" y2="318.10" stroke="#111" stroke-width="0.9" />
<line x1="229.06" y1="315.90" x2="229.06" y2="318.10" stroke="#111" stroke-width="0.9" />
<text x="0" y="0" font-size="7.3" text-anchor="middle" font-weight="bold" stroke="#111" stroke-width="0.4" fill="#111" transform="translate(43.40 325.50) scale(1 1.12)">10</text>
<text x="0" y="0" font-size="7.3" text-anchor="middle" font-weight="bold" stroke="#111" stroke-width="0.4" fill="#111" transform="translate(71.65 325.50) scale(1 1.12)">17</text>
<text x="0" y="0" font-size="7.3" text-anchor="middle" font-weight="bold" stroke="#111" stroke-width="0.4" fill="#111" transform="translate(99.90 325.50) scale(1 1.12)">24</text>
<text x="0" y="0" font-size="7.3" text-anchor="middle" font-weight="bold" stroke="#111" stroke-width="0.4" fill="#111" transform="translate(132.19 325.50) scale(1 1.12)">32</text>
<text x="0" y="0" font-size="7.3" text-anchor="middle" font-weight="bold" stroke="#111" stroke-width="0.4" fill="#111" transform="translate(156.41 325.50) scale(1 1.12)">38</text>
<text x="0" y="0" font-size="7.3" text-anchor="middle" font-weight="bold" stroke="#111" stroke-width="0.4" fill="#111" transform="translate(184.66 325.50) scale(1 1.12)">45</text>
<text x="0" y="0" font-size="7.3" text-anchor="middle" font-weight="bold" stroke="#111" stroke-width="0.4" fill="#111" transform="translate(212.91 325.50) scale(1 1.12)">52</text>
<text x="130.30" y="337.70" font-size="8.65" text-anchor="middle" font-weight="bold" stroke="#111" stroke-width="0.4" fill="#111">Day of study</text>
<text x="7.90" y="254.70" font-size="8.65" text-anchor="middle" font-weight="bold" stroke="#111" stroke-width="0.4" fill="#111" transform="rotate(-90 7.90 254.70)">Food intake (grams)</text>
<line x1="45.70" y1="197.80" x2="64.80" y2="197.80" stroke="#333" stroke-width="1.5" />
<circle cx="55.20" cy="197.80" r="2.0" fill="#111"/>
<text x="67.60" y="200.10" font-size="6.4" text-anchor="start" font-weight="bold" stroke="#111" stroke-width="0.4" textLength="14.0" lengthAdjust="spacingAndGlyphs" fill="#111">RW&#8211;</text>
<rect x="45.70" y="208.65" width="2.67" height="1.5" fill="#222"/>
<rect x="50.28" y="208.65" width="2.29" height="1.5" fill="#222"/>
<rect x="58.31" y="208.65" width="2.29" height="1.5" fill="#222"/>
<rect x="62.32" y="208.65" width="2.48" height="1.5" fill="#222"/>
<rect x="53.20" y="207.40" width="4.0" height="4.0" fill="#000"/>
<text x="67.60" y="211.70" font-size="6.4" text-anchor="start" font-weight="bold" stroke="#111" stroke-width="0.4" textLength="14.0" lengthAdjust="spacingAndGlyphs" fill="#111">RW+</text>
<text x="132.90" y="203.20" font-size="9.5" text-anchor="middle" font-weight="bold" stroke="#111" stroke-width="0.4" fill="#111">*</text>
<line x1="43.80" y1="237.00" x2="43.80" y2="259.40" stroke="#2a2a2a" stroke-width="0.85" />
<line x1="42.30" y1="237.00" x2="45.30" y2="237.00" stroke="#2a2a2a" stroke-width="0.85" />
<line x1="42.30" y1="259.40" x2="45.30" y2="259.40" stroke="#2a2a2a" stroke-width="0.85" />
<line x1="72.05" y1="234.50" x2="72.05" y2="252.10" stroke="#2a2a2a" stroke-width="0.85" />
<line x1="70.55" y1="234.50" x2="73.55" y2="234.50" stroke="#2a2a2a" stroke-width="0.85" />
<line x1="70.55" y1="252.10" x2="73.55" y2="252.10" stroke="#2a2a2a" stroke-width="0.85" />
<line x1="100.30" y1="237.30" x2="100.30" y2="250.10" stroke="#2a2a2a" stroke-width="0.85" />
<line x1="98.80" y1="237.30" x2="101.80" y2="237.30" stroke="#2a2a2a" stroke-width="0.85" />
<line x1="98.80" y1="250.10" x2="101.80" y2="250.10" stroke="#2a2a2a" stroke-width="0.85" />
<line x1="132.59" y1="207.10" x2="132.59" y2="220.10" stroke="#2a2a2a" stroke-width="0.85" />
<line x1="131.09" y1="207.10" x2="134.09" y2="207.10" stroke="#2a2a2a" stroke-width="0.85" />
<line x1="131.09" y1="220.10" x2="134.09" y2="220.10" stroke="#2a2a2a" stroke-width="0.85" />
<line x1="156.81" y1="277.60" x2="156.81" y2="287.60" stroke="#2a2a2a" stroke-width="0.85" />
<line x1="155.31" y1="277.60" x2="158.31" y2="277.60" stroke="#2a2a2a" stroke-width="0.85" />
<line x1="155.31" y1="287.60" x2="158.31" y2="287.60" stroke="#2a2a2a" stroke-width="0.85" />
<line x1="185.06" y1="237.60" x2="185.06" y2="252.80" stroke="#2a2a2a" stroke-width="0.85" />
<line x1="183.56" y1="237.60" x2="186.56" y2="237.60" stroke="#2a2a2a" stroke-width="0.85" />
<line x1="183.56" y1="252.80" x2="186.56" y2="252.80" stroke="#2a2a2a" stroke-width="0.85" />
<line x1="213.31" y1="236.50" x2="213.31" y2="252.50" stroke="#2a2a2a" stroke-width="0.85" />
<line x1="211.81" y1="236.50" x2="214.81" y2="236.50" stroke="#2a2a2a" stroke-width="0.85" />
<line x1="211.81" y1="252.50" x2="214.81" y2="252.50" stroke="#2a2a2a" stroke-width="0.85" />
<line x1="43.80" y1="257.30" x2="43.80" y2="271.50" stroke="#2a2a2a" stroke-width="0.85" />
<line x1="42.30" y1="257.30" x2="45.30" y2="257.30" stroke="#2a2a2a" stroke-width="0.85" />
<line x1="42.30" y1="271.50" x2="45.30" y2="271.50" stroke="#2a2a2a" stroke-width="0.85" />
<line x1="72.05" y1="258.40" x2="72.05" y2="270.40" stroke="#2a2a2a" stroke-width="0.85" />
<line x1="70.55" y1="258.40" x2="73.55" y2="258.40" stroke="#2a2a2a" stroke-width="0.85" />
<line x1="70.55" y1="270.40" x2="73.55" y2="270.40" stroke="#2a2a2a" stroke-width="0.85" />
<line x1="100.30" y1="252.90" x2="100.30" y2="265.50" stroke="#2a2a2a" stroke-width="0.85" />
<line x1="98.80" y1="252.90" x2="101.80" y2="252.90" stroke="#2a2a2a" stroke-width="0.85" />
<line x1="98.80" y1="265.50" x2="101.80" y2="265.50" stroke="#2a2a2a" stroke-width="0.85" />
<line x1="132.59" y1="225.00" x2="132.59" y2="235.00" stroke="#2a2a2a" stroke-width="0.85" />
<line x1="131.09" y1="225.00" x2="134.09" y2="225.00" stroke="#2a2a2a" stroke-width="0.85" />
<line x1="131.09" y1="235.00" x2="134.09" y2="235.00" stroke="#2a2a2a" stroke-width="0.85" />
<line x1="156.81" y1="285.30" x2="156.81" y2="296.70" stroke="#2a2a2a" stroke-width="0.85" />
<line x1="155.31" y1="285.30" x2="158.31" y2="285.30" stroke="#2a2a2a" stroke-width="0.85" />
<line x1="155.31" y1="296.70" x2="158.31" y2="296.70" stroke="#2a2a2a" stroke-width="0.85" />
<line x1="185.06" y1="244.80" x2="185.06" y2="258.60" stroke="#2a2a2a" stroke-width="0.85" />
<line x1="183.56" y1="244.80" x2="186.56" y2="244.80" stroke="#2a2a2a" stroke-width="0.85" />
<line x1="183.56" y1="258.60" x2="186.56" y2="258.60" stroke="#2a2a2a" stroke-width="0.85" />
<line x1="213.31" y1="255.10" x2="213.31" y2="264.30" stroke="#2a2a2a" stroke-width="0.85" />
<line x1="211.81" y1="255.10" x2="214.81" y2="255.10" stroke="#2a2a2a" stroke-width="0.85" />
<line x1="211.81" y1="264.30" x2="214.81" y2="264.30" stroke="#2a2a2a" stroke-width="0.85" />
<polyline points="43.80,248.20 72.05,243.30 100.30,243.70 132.59,213.60 156.81,282.60 185.06,245.20 213.31,244.50" fill="none" stroke="#111" stroke-width="1.4" stroke-linejoin="round"/>
<polyline points="43.80,264.40 72.05,264.40 100.30,259.20 132.59,230.00 156.81,291.00 185.06,251.70 213.31,259.70" fill="none" stroke="#111" stroke-width="1.4" stroke-dasharray="3,1.7" stroke-linejoin="round"/>
<circle cx="43.80" cy="248.20" r="2.4" fill="#111"/>
<circle cx="72.05" cy="243.30" r="2.4" fill="#111"/>
<circle cx="100.30" cy="243.70" r="2.4" fill="#111"/>
<circle cx="132.59" cy="213.60" r="2.4" fill="#111"/>
<circle cx="156.81" cy="282.60" r="2.4" fill="#111"/>
<circle cx="185.06" cy="245.20" r="2.4" fill="#111"/>
<circle cx="213.31" cy="244.50" r="2.4" fill="#111"/>
<rect x="41.35" y="261.95" width="4.9" height="4.9" fill="#111"/>
<rect x="69.60" y="261.95" width="4.9" height="4.9" fill="#111"/>
<rect x="97.85" y="256.75" width="4.9" height="4.9" fill="#111"/>
<rect x="130.14" y="227.55" width="4.9" height="4.9" fill="#111"/>
<rect x="154.36" y="288.55" width="4.9" height="4.9" fill="#111"/>
<rect x="182.61" y="249.25" width="4.9" height="4.9" fill="#111"/>
<rect x="210.86" y="257.25" width="4.9" height="4.9" fill="#111"/>
<text x="247.60" y="176.60" font-size="10.8" text-anchor="start" font-weight="bold" stroke="#111" stroke-width="0.4" fill="#111">F</text>
<line x1="276.90" y1="190.10" x2="276.90" y2="316.10" stroke="#111" stroke-width="1.3" />
<line x1="274.90" y1="190.10" x2="276.90" y2="190.10" stroke="#111" stroke-width="1.0" />
<text x="0" y="0" font-size="7.3" text-anchor="end" font-weight="bold" stroke="#111" stroke-width="0.4" fill="#111" transform="translate(273.20 193.00) scale(1 1.12)">0.32</text>
<line x1="274.90" y1="208.10" x2="276.90" y2="208.10" stroke="#111" stroke-width="1.0" />
<text x="0" y="0" font-size="7.3" text-anchor="end" font-weight="bold" stroke="#111" stroke-width="0.4" fill="#111" transform="translate(273.20 211.00) scale(1 1.12)">0.30</text>
<line x1="274.90" y1="226.10" x2="276.90" y2="226.10" stroke="#111" stroke-width="1.0" />
<text x="0" y="0" font-size="7.3" text-anchor="end" font-weight="bold" stroke="#111" stroke-width="0.4" fill="#111" transform="translate(273.20 229.00) scale(1 1.12)">0.28</text>
<line x1="274.90" y1="244.10" x2="276.90" y2="244.10" stroke="#111" stroke-width="1.0" />
<text x="0" y="0" font-size="7.3" text-anchor="end" font-weight="bold" stroke="#111" stroke-width="0.4" fill="#111" transform="translate(273.20 247.00) scale(1 1.12)">0.26</text>
<line x1="274.90" y1="262.10" x2="276.90" y2="262.10" stroke="#111" stroke-width="1.0" />
<text x="0" y="0" font-size="7.3" text-anchor="end" font-weight="bold" stroke="#111" stroke-width="0.4" fill="#111" transform="translate(273.20 265.00) scale(1 1.12)">0.24</text>
<line x1="274.90" y1="280.10" x2="276.90" y2="280.10" stroke="#111" stroke-width="1.0" />
<text x="0" y="0" font-size="7.3" text-anchor="end" font-weight="bold" stroke="#111" stroke-width="0.4" fill="#111" transform="translate(273.20 283.00) scale(1 1.12)">0.22</text>
<line x1="274.90" y1="298.10" x2="276.90" y2="298.10" stroke="#111" stroke-width="1.0" />
<text x="0" y="0" font-size="7.3" text-anchor="end" font-weight="bold" stroke="#111" stroke-width="0.4" fill="#111" transform="translate(273.20 301.00) scale(1 1.12)">0.20</text>
<line x1="274.90" y1="316.10" x2="276.90" y2="316.10" stroke="#111" stroke-width="1.0" />
<text x="0" y="0" font-size="7.3" text-anchor="end" font-weight="bold" stroke="#111" stroke-width="0.4" fill="#111" transform="translate(273.20 319.00) scale(1 1.12)">0.18</text>
<line x1="276.90" y1="316.10" x2="475.20" y2="316.10" stroke="#111" stroke-width="1.3" />
<line x1="281.14" y1="316.10" x2="281.14" y2="318.30" stroke="#111" stroke-width="0.9" />
<line x1="285.17" y1="316.10" x2="285.17" y2="318.30" stroke="#111" stroke-width="0.9" />
<line x1="289.20" y1="316.10" x2="289.20" y2="318.30" stroke="#111" stroke-width="0.9" />
<line x1="293.23" y1="316.10" x2="293.23" y2="318.30" stroke="#111" stroke-width="0.9" />
<line x1="297.26" y1="316.10" x2="297.26" y2="318.30" stroke="#111" stroke-width="0.9" />
<line x1="301.29" y1="316.10" x2="301.29" y2="318.30" stroke="#111" stroke-width="0.9" />
<line x1="305.32" y1="316.10" x2="305.32" y2="318.30" stroke="#111" stroke-width="0.9" />
<line x1="309.35" y1="316.10" x2="309.35" y2="318.30" stroke="#111" stroke-width="0.9" />
<line x1="313.38" y1="316.10" x2="313.38" y2="318.30" stroke="#111" stroke-width="0.9" />
<line x1="317.41" y1="316.10" x2="317.41" y2="318.30" stroke="#111" stroke-width="0.9" />
<line x1="321.44" y1="316.10" x2="321.44" y2="318.30" stroke="#111" stroke-width="0.9" />
<line x1="325.47" y1="316.10" x2="325.47" y2="318.30" stroke="#111" stroke-width="0.9" />
<line x1="329.50" y1="316.10" x2="329.50" y2="318.30" stroke="#111" stroke-width="0.9" />
<line x1="333.53" y1="316.10" x2="333.53" y2="318.30" stroke="#111" stroke-width="0.9" />
<line x1="337.56" y1="316.10" x2="337.56" y2="318.30" stroke="#111" stroke-width="0.9" />
<line x1="341.59" y1="316.10" x2="341.59" y2="318.30" stroke="#111" stroke-width="0.9" />
<line x1="345.62" y1="316.10" x2="345.62" y2="318.30" stroke="#111" stroke-width="0.9" />
<line x1="349.65" y1="316.10" x2="349.65" y2="318.30" stroke="#111" stroke-width="0.9" />
<line x1="353.68" y1="316.10" x2="353.68" y2="318.30" stroke="#111" stroke-width="0.9" />
<line x1="357.71" y1="316.10" x2="357.71" y2="318.30" stroke="#111" stroke-width="0.9" />
<line x1="361.74" y1="316.10" x2="361.74" y2="318.30" stroke="#111" stroke-width="0.9" />
<line x1="365.77" y1="316.10" x2="365.77" y2="318.30" stroke="#111" stroke-width="0.9" />
<line x1="369.80" y1="316.10" x2="369.80" y2="318.30" stroke="#111" stroke-width="0.9" />
<line x1="373.83" y1="316.10" x2="373.83" y2="318.30" stroke="#111" stroke-width="0.9" />
<line x1="377.86" y1="316.10" x2="377.86" y2="318.30" stroke="#111" stroke-width="0.9" />
<line x1="381.89" y1="316.10" x2="381.89" y2="318.30" stroke="#111" stroke-width="0.9" />
<line x1="385.92" y1="316.10" x2="385.92" y2="318.30" stroke="#111" stroke-width="0.9" />
<line x1="389.95" y1="316.10" x2="389.95" y2="318.30" stroke="#111" stroke-width="0.9" />
<line x1="393.98" y1="316.10" x2="393.98" y2="318.30" stroke="#111" stroke-width="0.9" />
<line x1="398.01" y1="316.10" x2="398.01" y2="318.30" stroke="#111" stroke-width="0.9" />
<line x1="402.04" y1="316.10" x2="402.04" y2="318.30" stroke="#111" stroke-width="0.9" />
<line x1="406.07" y1="316.10" x2="406.07" y2="318.30" stroke="#111" stroke-width="0.9" />
<line x1="410.10" y1="316.10" x2="410.10" y2="318.30" stroke="#111" stroke-width="0.9" />
<line x1="414.13" y1="316.10" x2="414.13" y2="318.30" stroke="#111" stroke-width="0.9" />
<line x1="418.16" y1="316.10" x2="418.16" y2="318.30" stroke="#111" stroke-width="0.9" />
<line x1="422.19" y1="316.10" x2="422.19" y2="318.30" stroke="#111" stroke-width="0.9" />
<line x1="426.22" y1="316.10" x2="426.22" y2="318.30" stroke="#111" stroke-width="0.9" />
<line x1="430.25" y1="316.10" x2="430.25" y2="318.30" stroke="#111" stroke-width="0.9" />
<line x1="434.28" y1="316.10" x2="434.28" y2="318.30" stroke="#111" stroke-width="0.9" />
<line x1="438.31" y1="316.10" x2="438.31" y2="318.30" stroke="#111" stroke-width="0.9" />
<line x1="442.34" y1="316.10" x2="442.34" y2="318.30" stroke="#111" stroke-width="0.9" />
<line x1="446.37" y1="316.10" x2="446.37" y2="318.30" stroke="#111" stroke-width="0.9" />
<line x1="450.40" y1="316.10" x2="450.40" y2="318.30" stroke="#111" stroke-width="0.9" />
<line x1="454.43" y1="316.10" x2="454.43" y2="318.30" stroke="#111" stroke-width="0.9" />
<line x1="458.46" y1="316.10" x2="458.46" y2="318.30" stroke="#111" stroke-width="0.9" />
<line x1="462.49" y1="316.10" x2="462.49" y2="318.30" stroke="#111" stroke-width="0.9" />
<line x1="466.52" y1="316.10" x2="466.52" y2="318.30" stroke="#111" stroke-width="0.9" />
<line x1="470.55" y1="316.10" x2="470.55" y2="318.30" stroke="#111" stroke-width="0.9" />
<line x1="474.58" y1="316.10" x2="474.58" y2="318.30" stroke="#111" stroke-width="0.9" />
<text x="0" y="0" font-size="7.3" text-anchor="middle" font-weight="bold" stroke="#111" stroke-width="0.4" fill="#111" transform="translate(289.20 325.50) scale(1 1.12)">10</text>
<text x="0" y="0" font-size="7.3" text-anchor="middle" font-weight="bold" stroke="#111" stroke-width="0.4" fill="#111" transform="translate(317.41 325.50) scale(1 1.12)">17</text>
<text x="0" y="0" font-size="7.3" text-anchor="middle" font-weight="bold" stroke="#111" stroke-width="0.4" fill="#111" transform="translate(345.62 325.50) scale(1 1.12)">24</text>
<text x="0" y="0" font-size="7.3" text-anchor="middle" font-weight="bold" stroke="#111" stroke-width="0.4" fill="#111" transform="translate(377.86 325.50) scale(1 1.12)">32</text>
<text x="0" y="0" font-size="7.3" text-anchor="middle" font-weight="bold" stroke="#111" stroke-width="0.4" fill="#111" transform="translate(402.04 325.50) scale(1 1.12)">38</text>
<text x="0" y="0" font-size="7.3" text-anchor="middle" font-weight="bold" stroke="#111" stroke-width="0.4" fill="#111" transform="translate(430.25 325.50) scale(1 1.12)">45</text>
<text x="0" y="0" font-size="7.3" text-anchor="middle" font-weight="bold" stroke="#111" stroke-width="0.4" fill="#111" transform="translate(458.46 325.50) scale(1 1.12)">52</text>
<text x="376.00" y="336.40" font-size="7.9" text-anchor="middle" font-weight="bold" stroke="#111" stroke-width="0.4" fill="#111">Day of study</text>
<text x="253.00" y="252.80" font-size="8.65" text-anchor="middle" font-weight="bold" stroke="#111" stroke-width="0.4" fill="#111" transform="rotate(-90 253.00 252.80)">Normalized food intake (g diet/g bw)</text>
<line x1="291.60" y1="197.60" x2="310.40" y2="197.60" stroke="#333" stroke-width="1.5" />
<circle cx="301.00" cy="197.60" r="2.0" fill="#111"/>
<text x="312.70" y="199.90" font-size="6.4" text-anchor="start" font-weight="bold" stroke="#111" stroke-width="0.4" textLength="14.0" lengthAdjust="spacingAndGlyphs" fill="#111">RW&#8211;</text>
<rect x="291.60" y="208.55" width="2.63" height="1.5" fill="#222"/>
<rect x="296.11" y="208.55" width="2.26" height="1.5" fill="#222"/>
<rect x="304.01" y="208.55" width="2.26" height="1.5" fill="#222"/>
<rect x="307.96" y="208.55" width="2.44" height="1.5" fill="#222"/>
<rect x="299.00" y="207.30" width="4.0" height="4.0" fill="#000"/>
<text x="312.70" y="211.60" font-size="6.4" text-anchor="start" font-weight="bold" stroke="#111" stroke-width="0.4" textLength="14.0" lengthAdjust="spacingAndGlyphs" fill="#111">RW+</text>
<line x1="289.20" y1="232.50" x2="289.20" y2="249.50" stroke="#2a2a2a" stroke-width="0.85" />
<line x1="287.70" y1="232.50" x2="290.70" y2="232.50" stroke="#2a2a2a" stroke-width="0.85" />
<line x1="287.70" y1="249.50" x2="290.70" y2="249.50" stroke="#2a2a2a" stroke-width="0.85" />
<line x1="317.41" y1="230.40" x2="317.41" y2="243.00" stroke="#2a2a2a" stroke-width="0.85" />
<line x1="315.91" y1="230.40" x2="318.91" y2="230.40" stroke="#2a2a2a" stroke-width="0.85" />
<line x1="315.91" y1="243.00" x2="318.91" y2="243.00" stroke="#2a2a2a" stroke-width="0.85" />
<line x1="345.62" y1="234.40" x2="345.62" y2="242.40" stroke="#2a2a2a" stroke-width="0.85" />
<line x1="344.12" y1="234.40" x2="347.12" y2="234.40" stroke="#2a2a2a" stroke-width="0.85" />
<line x1="344.12" y1="242.40" x2="347.12" y2="242.40" stroke="#2a2a2a" stroke-width="0.85" />
<line x1="377.86" y1="203.60" x2="377.86" y2="209.60" stroke="#2a2a2a" stroke-width="0.85" />
<line x1="376.36" y1="203.60" x2="379.36" y2="203.60" stroke="#2a2a2a" stroke-width="0.85" />
<line x1="376.36" y1="209.60" x2="379.36" y2="209.60" stroke="#2a2a2a" stroke-width="0.85" />
<line x1="402.04" y1="275.20" x2="402.04" y2="281.60" stroke="#2a2a2a" stroke-width="0.85" />
<line x1="400.54" y1="275.20" x2="403.54" y2="275.20" stroke="#2a2a2a" stroke-width="0.85" />
<line x1="400.54" y1="281.60" x2="403.54" y2="281.60" stroke="#2a2a2a" stroke-width="0.85" />
<line x1="430.25" y1="240.00" x2="430.25" y2="247.20" stroke="#2a2a2a" stroke-width="0.85" />
<line x1="428.75" y1="240.00" x2="431.75" y2="240.00" stroke="#2a2a2a" stroke-width="0.85" />
<line x1="428.75" y1="247.20" x2="431.75" y2="247.20" stroke="#2a2a2a" stroke-width="0.85" />
<line x1="458.46" y1="238.10" x2="458.46" y2="252.70" stroke="#2a2a2a" stroke-width="0.85" />
<line x1="456.96" y1="238.10" x2="459.96" y2="238.10" stroke="#2a2a2a" stroke-width="0.85" />
<line x1="456.96" y1="252.70" x2="459.96" y2="252.70" stroke="#2a2a2a" stroke-width="0.85" />
<line x1="289.20" y1="244.30" x2="289.20" y2="257.50" stroke="#2a2a2a" stroke-width="0.85" />
<line x1="287.70" y1="244.30" x2="290.70" y2="244.30" stroke="#2a2a2a" stroke-width="0.85" />
<line x1="287.70" y1="257.50" x2="290.70" y2="257.50" stroke="#2a2a2a" stroke-width="0.85" />
<line x1="317.41" y1="246.20" x2="317.41" y2="255.60" stroke="#2a2a2a" stroke-width="0.85" />
<line x1="315.91" y1="246.20" x2="318.91" y2="246.20" stroke="#2a2a2a" stroke-width="0.85" />
<line x1="315.91" y1="255.60" x2="318.91" y2="255.60" stroke="#2a2a2a" stroke-width="0.85" />
<line x1="345.62" y1="240.80" x2="345.62" y2="248.80" stroke="#2a2a2a" stroke-width="0.85" />
<line x1="344.12" y1="240.80" x2="347.12" y2="240.80" stroke="#2a2a2a" stroke-width="0.85" />
<line x1="344.12" y1="248.80" x2="347.12" y2="248.80" stroke="#2a2a2a" stroke-width="0.85" />
<line x1="377.86" y1="209.90" x2="377.86" y2="215.90" stroke="#2a2a2a" stroke-width="0.85" />
<line x1="376.36" y1="209.90" x2="379.36" y2="209.90" stroke="#2a2a2a" stroke-width="0.85" />
<line x1="376.36" y1="215.90" x2="379.36" y2="215.90" stroke="#2a2a2a" stroke-width="0.85" />
<line x1="402.04" y1="275.60" x2="402.04" y2="282.00" stroke="#2a2a2a" stroke-width="0.85" />
<line x1="400.54" y1="275.60" x2="403.54" y2="275.60" stroke="#2a2a2a" stroke-width="0.85" />
<line x1="400.54" y1="282.00" x2="403.54" y2="282.00" stroke="#2a2a2a" stroke-width="0.85" />
<line x1="430.25" y1="237.60" x2="430.25" y2="244.80" stroke="#2a2a2a" stroke-width="0.85" />
<line x1="428.75" y1="237.60" x2="431.75" y2="237.60" stroke="#2a2a2a" stroke-width="0.85" />
<line x1="428.75" y1="244.80" x2="431.75" y2="244.80" stroke="#2a2a2a" stroke-width="0.85" />
<line x1="458.46" y1="244.70" x2="458.46" y2="251.10" stroke="#2a2a2a" stroke-width="0.85" />
<line x1="456.96" y1="244.70" x2="459.96" y2="244.70" stroke="#2a2a2a" stroke-width="0.85" />
<line x1="456.96" y1="251.10" x2="459.96" y2="251.10" stroke="#2a2a2a" stroke-width="0.85" />
<polyline points="289.20,241.00 317.41,236.70 345.62,238.40 377.86,206.60 402.04,278.40 430.25,243.60 458.46,245.40" fill="none" stroke="#111" stroke-width="1.4" stroke-linejoin="round"/>
<polyline points="289.20,250.90 317.41,250.90 345.62,244.80 377.86,212.90 402.04,278.80 430.25,241.20 458.46,247.90" fill="none" stroke="#111" stroke-width="1.4" stroke-dasharray="3,1.7" stroke-linejoin="round"/>
<circle cx="289.20" cy="241.00" r="2.4" fill="#111"/>
<circle cx="317.41" cy="236.70" r="2.4" fill="#111"/>
<circle cx="345.62" cy="238.40" r="2.4" fill="#111"/>
<circle cx="377.86" cy="206.60" r="2.4" fill="#111"/>
<circle cx="402.04" cy="278.40" r="2.4" fill="#111"/>
<circle cx="430.25" cy="243.60" r="2.4" fill="#111"/>
<circle cx="458.46" cy="245.40" r="2.4" fill="#111"/>
<rect x="286.75" y="248.45" width="4.9" height="4.9" fill="#111"/>
<rect x="314.96" y="248.45" width="4.9" height="4.9" fill="#111"/>
<rect x="343.17" y="242.35" width="4.9" height="4.9" fill="#111"/>
<rect x="375.41" y="210.45" width="4.9" height="4.9" fill="#111"/>
<rect x="399.59" y="276.35" width="4.9" height="4.9" fill="#111"/>
<rect x="427.80" y="238.75" width="4.9" height="4.9" fill="#111"/>
<rect x="456.01" y="245.45" width="4.9" height="4.9" fill="#111"/>
<text x="492.50" y="176.70" font-size="10.8" text-anchor="start" font-weight="bold" stroke="#111" stroke-width="0.4" fill="#111">G</text>
<line x1="527.30" y1="199.70" x2="527.30" y2="302.60" stroke="#111" stroke-width="1.1" />
<line x1="527.30" y1="302.60" x2="596.30" y2="302.60" stroke="#111" stroke-width="1.1" />
<line x1="523.60" y1="199.70" x2="527.30" y2="199.70" stroke="#111" stroke-width="1.1" />
<text x="521.00" y="202.10" font-size="7.0" text-anchor="end" font-weight="bold" stroke="#111" stroke-width="0.4" fill="#111">26</text>
<line x1="523.60" y1="220.28" x2="527.30" y2="220.28" stroke="#111" stroke-width="1.1" />
<text x="521.00" y="222.68" font-size="7.0" text-anchor="end" font-weight="bold" stroke="#111" stroke-width="0.4" fill="#111">24</text>
<line x1="523.60" y1="240.86" x2="527.30" y2="240.86" stroke="#111" stroke-width="1.1" />
<text x="521.00" y="243.26" font-size="7.0" text-anchor="end" font-weight="bold" stroke="#111" stroke-width="0.4" fill="#111">22</text>
<line x1="523.60" y1="261.44" x2="527.30" y2="261.44" stroke="#111" stroke-width="1.1" />
<text x="521.00" y="263.84" font-size="7.0" text-anchor="end" font-weight="bold" stroke="#111" stroke-width="0.4" fill="#111">20</text>
<line x1="523.60" y1="282.02" x2="527.30" y2="282.02" stroke="#111" stroke-width="1.1" />
<text x="521.00" y="284.42" font-size="7.0" text-anchor="end" font-weight="bold" stroke="#111" stroke-width="0.4" fill="#111">18</text>
<line x1="523.60" y1="302.60" x2="527.30" y2="302.60" stroke="#111" stroke-width="1.1" />
<text x="521.00" y="305.00" font-size="7.0" text-anchor="end" font-weight="bold" stroke="#111" stroke-width="0.4" fill="#111">16</text>
<text x="496.30" y="253.90" font-size="8.65" text-anchor="middle" font-weight="bold" stroke="#111" stroke-width="0.4" fill="#111" transform="rotate(-90 496.30 253.90)">Average daily food intake (grams)</text>
<text x="506.00" y="253.50" font-size="8.65" text-anchor="middle" font-weight="bold" stroke="#111" stroke-width="0.4" fill="#111" transform="rotate(-90 506.00 253.50)">day &#8211;1 to day 52</text>
<line x1="544.10" y1="198.30" x2="548.60" y2="198.30" stroke="#222" stroke-width="1.0" />
<line x1="573.60" y1="198.30" x2="578.50" y2="198.30" stroke="#222" stroke-width="1.0" />
<line x1="544.10" y1="197.80" x2="544.10" y2="202.30" stroke="#222" stroke-width="1.0" />
<line x1="578.50" y1="197.80" x2="578.50" y2="202.30" stroke="#222" stroke-width="1.0" />
<text x="550.0" y="200.9" font-size="4.9" font-weight="bold" fill="#222" textLength="21.8" lengthAdjust="spacingAndGlyphs"><tspan font-style="italic">P</tspan> = 0.087</text>
<text x="546.00" y="312.00" font-size="6.8" text-anchor="middle" font-weight="bold" stroke="#111" stroke-width="0.4" textLength="15.7" lengthAdjust="spacingAndGlyphs" fill="#111">RW&#8211;</text>
<text x="579.70" y="312.00" font-size="6.8" text-anchor="middle" font-weight="bold" stroke="#111" stroke-width="0.4" textLength="15.7" lengthAdjust="spacingAndGlyphs" fill="#111">RW+</text>
<circle cx="544.20" cy="212.80" r="1.9" fill="#111"/>
<circle cx="544.20" cy="225.10" r="1.9" fill="#111"/>
<circle cx="544.20" cy="231.20" r="1.9" fill="#111"/>
<circle cx="544.20" cy="238.20" r="1.9" fill="#111"/>
<circle cx="541.50" cy="248.00" r="1.9" fill="#111"/>
<circle cx="546.60" cy="247.00" r="1.9" fill="#111"/>
<circle cx="544.20" cy="257.30" r="1.9" fill="#111"/>
<circle cx="544.20" cy="267.50" r="1.9" fill="#111"/>
<line x1="532.40" y1="240.90" x2="556.00" y2="240.90" stroke="#111" stroke-width="1.2" />
<line x1="538.25" y1="234.70" x2="550.15" y2="234.70" stroke="#111" stroke-width="1.0" />
<line x1="538.25" y1="247.40" x2="550.15" y2="247.40" stroke="#111" stroke-width="1.0" />
<line x1="544.20" y1="234.70" x2="544.20" y2="247.40" stroke="#111" stroke-width="1.0" />
<circle cx="576.10" cy="236.80" r="1.9" fill="#111"/>
<circle cx="580.90" cy="235.60" r="1.9" fill="#111"/>
<circle cx="578.40" cy="244.70" r="1.9" fill="#111"/>
<circle cx="578.40" cy="250.00" r="1.9" fill="#111"/>
<circle cx="571.40" cy="261.40" r="1.9" fill="#111"/>
<circle cx="576.10" cy="262.50" r="1.9" fill="#111"/>
<circle cx="585.50" cy="262.30" r="1.9" fill="#111"/>
<circle cx="581.10" cy="265.50" r="1.9" fill="#111"/>
<circle cx="578.40" cy="273.40" r="1.9" fill="#111"/>
<line x1="566.25" y1="254.60" x2="590.55" y2="254.60" stroke="#111" stroke-width="1.2" />
<line x1="572.50" y1="250.20" x2="584.30" y2="250.20" stroke="#111" stroke-width="1.0" />
<line x1="572.50" y1="259.00" x2="584.30" y2="259.00" stroke="#111" stroke-width="1.0" />
<line x1="578.40" y1="250.20" x2="578.40" y2="259.00" stroke="#111" stroke-width="1.0" />
</svg>
</body></html>
